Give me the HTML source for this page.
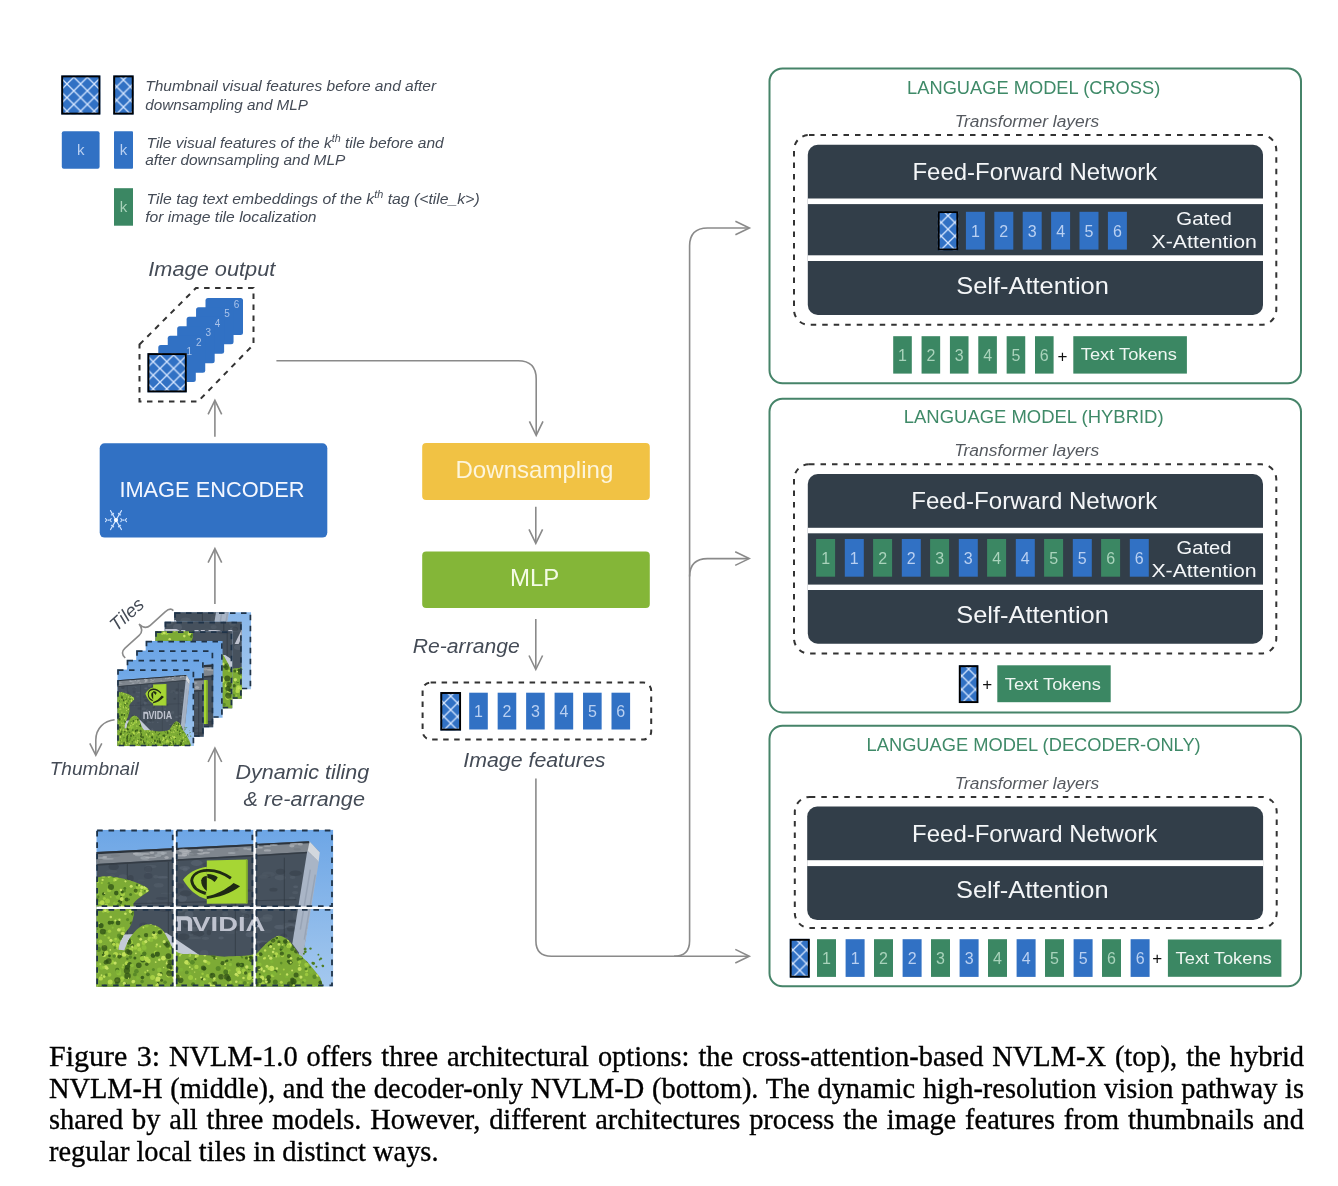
<!DOCTYPE html><html><head><meta charset="utf-8"><style>
html,body{margin:0;padding:0;background:#fff;}body{width:1338px;height:1186px;position:relative;overflow:hidden;}
svg{position:absolute;left:0;top:0;will-change:transform;}
text{font-family:"Liberation Sans",sans-serif;}
.cap{will-change:transform;position:absolute;left:49px;top:1039.5px;width:1255px;font-family:"Liberation Serif",serif;font-size:28.4px;line-height:31.55px;color:#000;text-align:justify;-webkit-text-stroke:0.35px #000;}
.cap .f{font-size:30px;}
</style></head><body>
<svg width="1338" height="1186" viewBox="0 0 1338 1186">
<defs>
<linearGradient id="sky" x1="0" y1="0" x2="0" y2="1"><stop offset="0" stop-color="#6da6e6"/><stop offset="1" stop-color="#a4c8ee"/></linearGradient>
<pattern id="hp" patternUnits="userSpaceOnUse" x="0" y="0" width="13.6" height="13.6"><path d="M-1,-1 L14.6,14.6 M14.6,-1 L-1,14.6" stroke="#d6e6ff" stroke-width="1.3"/></pattern>
<g id="photo"><clipPath id="pclip"><rect x="0" y="0" width="237" height="157"/></clipPath><g clip-path="url(#pclip)">
<rect x="0" y="0" width="237" height="157" fill="url(#sky)"/>
<polygon points="0,22.3 212.5,11.5 223,22 208,117 199,128 196,157 0,157" fill="#46515d"/>
<ellipse cx="66.4" cy="47.6" rx="5.3" ry="1.2" fill="#5d6874" opacity="0.55"/>
<ellipse cx="19.3" cy="89.5" rx="6.5" ry="1.5" fill="#3a4450" opacity="0.55"/>
<ellipse cx="88.9" cy="39.8" rx="2.5" ry="2.1" fill="#5d6874" opacity="0.55"/>
<ellipse cx="25.4" cy="54.7" rx="5.1" ry="3.4" fill="#5d6874" opacity="0.55"/>
<ellipse cx="120.0" cy="37.8" rx="3.1" ry="2.4" fill="#55606c" opacity="0.55"/>
<ellipse cx="59.4" cy="47.0" rx="2.6" ry="1.8" fill="#55606c" opacity="0.55"/>
<ellipse cx="21.1" cy="88.4" rx="2.9" ry="1.2" fill="#3a4450" opacity="0.55"/>
<ellipse cx="115.7" cy="93.0" rx="4.5" ry="2.3" fill="#4e5965" opacity="0.55"/>
<ellipse cx="95.4" cy="122.6" rx="3.8" ry="1.6" fill="#55606c" opacity="0.55"/>
<ellipse cx="143.3" cy="56.7" rx="4.9" ry="2.3" fill="#4e5965" opacity="0.55"/>
<ellipse cx="149.5" cy="60.9" rx="6.9" ry="1.3" fill="#363f49" opacity="0.55"/>
<ellipse cx="33.8" cy="66.2" rx="6.7" ry="2.1" fill="#3a4450" opacity="0.55"/>
<ellipse cx="156.7" cy="88.6" rx="6.4" ry="1.8" fill="#4e5965" opacity="0.55"/>
<ellipse cx="121.8" cy="89.2" rx="4.3" ry="3.1" fill="#4e5965" opacity="0.55"/>
<ellipse cx="97.2" cy="97.4" rx="2.3" ry="2.8" fill="#5d6874" opacity="0.55"/>
<ellipse cx="203.6" cy="112.7" rx="3.4" ry="2.0" fill="#4e5965" opacity="0.55"/>
<ellipse cx="4.6" cy="77.8" rx="2.8" ry="1.3" fill="#3a4450" opacity="0.55"/>
<ellipse cx="44.7" cy="60.9" rx="5.7" ry="2.0" fill="#363f49" opacity="0.55"/>
<ellipse cx="16.5" cy="76.6" rx="4.7" ry="3.2" fill="#363f49" opacity="0.55"/>
<ellipse cx="177.1" cy="60.0" rx="4.1" ry="1.9" fill="#363f49" opacity="0.55"/>
<ellipse cx="196.3" cy="47.6" rx="2.9" ry="1.6" fill="#55606c" opacity="0.55"/>
<ellipse cx="2.5" cy="113.6" rx="2.9" ry="1.7" fill="#55606c" opacity="0.55"/>
<ellipse cx="85.9" cy="68.8" rx="4.8" ry="3.4" fill="#5d6874" opacity="0.55"/>
<ellipse cx="194.8" cy="96.5" rx="5.7" ry="2.1" fill="#5d6874" opacity="0.55"/>
<ellipse cx="80.4" cy="71.7" rx="2.5" ry="2.6" fill="#3a4450" opacity="0.55"/>
<ellipse cx="39.1" cy="128.5" rx="4.2" ry="1.3" fill="#5d6874" opacity="0.55"/>
<ellipse cx="10.8" cy="33.0" rx="2.8" ry="1.3" fill="#4e5965" opacity="0.55"/>
<ellipse cx="125.8" cy="39.8" rx="3.0" ry="1.9" fill="#4e5965" opacity="0.55"/>
<ellipse cx="195.9" cy="91.4" rx="4.4" ry="1.3" fill="#363f49" opacity="0.55"/>
<ellipse cx="203.6" cy="78.2" rx="4.4" ry="1.2" fill="#3a4450" opacity="0.55"/>
<ellipse cx="153.7" cy="104.8" rx="4.4" ry="2.7" fill="#5d6874" opacity="0.55"/>
<ellipse cx="4.7" cy="125.2" rx="4.6" ry="1.4" fill="#5d6874" opacity="0.55"/>
<ellipse cx="187.4" cy="106.5" rx="3.5" ry="2.6" fill="#3a4450" opacity="0.55"/>
<ellipse cx="142.7" cy="58.3" rx="3.8" ry="1.4" fill="#55606c" opacity="0.55"/>
<ellipse cx="109.2" cy="108.6" rx="3.6" ry="1.6" fill="#55606c" opacity="0.55"/>
<ellipse cx="165.2" cy="112.4" rx="5.7" ry="1.6" fill="#5d6874" opacity="0.55"/>
<ellipse cx="101.0" cy="103.9" rx="6.9" ry="3.0" fill="#363f49" opacity="0.55"/>
<ellipse cx="53.1" cy="100.2" rx="6.8" ry="2.1" fill="#4e5965" opacity="0.55"/>
<ellipse cx="195.8" cy="68.4" rx="3.1" ry="1.6" fill="#55606c" opacity="0.55"/>
<ellipse cx="69.2" cy="79.8" rx="6.9" ry="2.5" fill="#3a4450" opacity="0.55"/>
<ellipse cx="98.3" cy="96.3" rx="6.0" ry="1.2" fill="#3a4450" opacity="0.55"/>
<ellipse cx="186.5" cy="108.9" rx="5.8" ry="2.2" fill="#55606c" opacity="0.55"/>
<ellipse cx="89.0" cy="94.7" rx="2.4" ry="3.4" fill="#363f49" opacity="0.55"/>
<ellipse cx="94.9" cy="105.1" rx="2.4" ry="1.4" fill="#55606c" opacity="0.55"/>
<ellipse cx="5.6" cy="90.3" rx="4.3" ry="2.6" fill="#5d6874" opacity="0.55"/>
<ellipse cx="169.4" cy="128.1" rx="5.3" ry="1.9" fill="#5d6874" opacity="0.55"/>
<ellipse cx="112.4" cy="35.1" rx="6.0" ry="2.8" fill="#3a4450" opacity="0.55"/>
<ellipse cx="107.9" cy="123.6" rx="4.2" ry="3.2" fill="#55606c" opacity="0.55"/>
<ellipse cx="5.7" cy="53.6" rx="4.5" ry="2.9" fill="#4e5965" opacity="0.55"/>
<ellipse cx="53.2" cy="73.6" rx="2.7" ry="3.3" fill="#4e5965" opacity="0.55"/>
<ellipse cx="184.0" cy="97.3" rx="6.1" ry="2.3" fill="#5d6874" opacity="0.55"/>
<ellipse cx="26.8" cy="47.7" rx="4.6" ry="3.2" fill="#55606c" opacity="0.55"/>
<ellipse cx="124.8" cy="108.3" rx="2.7" ry="1.4" fill="#5d6874" opacity="0.55"/>
<ellipse cx="148.7" cy="87.0" rx="3.6" ry="2.3" fill="#5d6874" opacity="0.55"/>
<ellipse cx="98.9" cy="108.3" rx="6.4" ry="1.1" fill="#55606c" opacity="0.55"/>
<ellipse cx="56.8" cy="107.9" rx="4.5" ry="2.4" fill="#3a4450" opacity="0.55"/>
<ellipse cx="90.9" cy="92.4" rx="4.5" ry="2.3" fill="#4e5965" opacity="0.55"/>
<ellipse cx="92.7" cy="84.7" rx="4.4" ry="3.4" fill="#5d6874" opacity="0.55"/>
<ellipse cx="179.7" cy="124.4" rx="3.3" ry="2.4" fill="#55606c" opacity="0.55"/>
<ellipse cx="172.2" cy="46.3" rx="2.6" ry="2.1" fill="#3a4450" opacity="0.55"/>
<ellipse cx="137.6" cy="74.5" rx="3.1" ry="1.8" fill="#3a4450" opacity="0.55"/>
<ellipse cx="183.9" cy="48.0" rx="5.6" ry="2.7" fill="#55606c" opacity="0.55"/>
<ellipse cx="51.9" cy="46.3" rx="4.3" ry="2.9" fill="#3a4450" opacity="0.55"/>
<ellipse cx="81.6" cy="80.3" rx="6.9" ry="3.1" fill="#55606c" opacity="0.55"/>
<ellipse cx="144.8" cy="129.4" rx="4.0" ry="2.1" fill="#4e5965" opacity="0.55"/>
<ellipse cx="65.3" cy="103.0" rx="2.1" ry="2.4" fill="#363f49" opacity="0.55"/>
<ellipse cx="144.1" cy="70.3" rx="4.6" ry="1.7" fill="#3a4450" opacity="0.55"/>
<ellipse cx="23.1" cy="122.1" rx="3.1" ry="3.2" fill="#3a4450" opacity="0.55"/>
<ellipse cx="54.4" cy="36.8" rx="5.9" ry="1.7" fill="#55606c" opacity="0.55"/>
<ellipse cx="168.1" cy="115.4" rx="5.4" ry="3.4" fill="#363f49" opacity="0.55"/>
<ellipse cx="30.6" cy="122.2" rx="4.9" ry="2.8" fill="#3a4450" opacity="0.55"/>
<ellipse cx="57.2" cy="110.6" rx="2.9" ry="3.2" fill="#4e5965" opacity="0.55"/>
<ellipse cx="192.4" cy="94.5" rx="6.0" ry="1.2" fill="#55606c" opacity="0.55"/>
<ellipse cx="13.7" cy="116.7" rx="4.3" ry="1.8" fill="#5d6874" opacity="0.55"/>
<ellipse cx="85.6" cy="121.8" rx="5.1" ry="1.1" fill="#55606c" opacity="0.55"/>
<ellipse cx="192.3" cy="127.0" rx="3.3" ry="1.5" fill="#4e5965" opacity="0.55"/>
<ellipse cx="128.9" cy="84.5" rx="3.0" ry="2.1" fill="#55606c" opacity="0.55"/>
<ellipse cx="55.5" cy="111.0" rx="7.0" ry="1.1" fill="#3a4450" opacity="0.55"/>
<ellipse cx="150.3" cy="86.5" rx="2.9" ry="2.2" fill="#363f49" opacity="0.55"/>
<ellipse cx="21.8" cy="112.4" rx="4.2" ry="2.2" fill="#363f49" opacity="0.55"/>
<ellipse cx="198.9" cy="62.9" rx="3.1" ry="1.6" fill="#55606c" opacity="0.55"/>
<ellipse cx="170.6" cy="101.6" rx="5.2" ry="2.0" fill="#4e5965" opacity="0.55"/>
<ellipse cx="201.3" cy="114.2" rx="2.1" ry="2.6" fill="#4e5965" opacity="0.55"/>
<ellipse cx="88.3" cy="38.4" rx="5.3" ry="2.0" fill="#5d6874" opacity="0.55"/>
<ellipse cx="137.5" cy="60.3" rx="3.2" ry="1.7" fill="#363f49" opacity="0.55"/>
<ellipse cx="38.0" cy="59.1" rx="2.0" ry="1.9" fill="#4e5965" opacity="0.55"/>
<ellipse cx="199.4" cy="86.1" rx="3.2" ry="3.4" fill="#4e5965" opacity="0.55"/>
<ellipse cx="44.7" cy="50.7" rx="3.7" ry="1.2" fill="#4e5965" opacity="0.55"/>
<ellipse cx="103.1" cy="52.5" rx="4.5" ry="1.0" fill="#4e5965" opacity="0.55"/>
<ellipse cx="167.5" cy="47.0" rx="4.9" ry="2.0" fill="#4e5965" opacity="0.55"/>
<ellipse cx="62.4" cy="55.6" rx="4.9" ry="2.3" fill="#55606c" opacity="0.55"/>
<ellipse cx="134.8" cy="102.5" rx="6.4" ry="2.0" fill="#4e5965" opacity="0.55"/>
<ellipse cx="147.7" cy="80.9" rx="3.4" ry="2.5" fill="#55606c" opacity="0.55"/>
<ellipse cx="9.0" cy="114.0" rx="6.5" ry="2.6" fill="#5d6874" opacity="0.55"/>
<ellipse cx="28.6" cy="83.8" rx="4.5" ry="3.1" fill="#3a4450" opacity="0.55"/>
<ellipse cx="169.4" cy="89.7" rx="6.5" ry="2.7" fill="#55606c" opacity="0.55"/>
<ellipse cx="17.4" cy="37.1" rx="5.2" ry="3.4" fill="#363f49" opacity="0.55"/>
<ellipse cx="171.3" cy="87.2" rx="5.1" ry="2.6" fill="#55606c" opacity="0.55"/>
<ellipse cx="100.3" cy="33.3" rx="6.0" ry="2.9" fill="#5d6874" opacity="0.55"/>
<ellipse cx="184.1" cy="41.9" rx="4.6" ry="2.9" fill="#363f49" opacity="0.55"/>
<ellipse cx="51.7" cy="40.2" rx="3.3" ry="2.8" fill="#55606c" opacity="0.55"/>
<ellipse cx="47.3" cy="96.0" rx="4.3" ry="3.1" fill="#3a4450" opacity="0.55"/>
<ellipse cx="98.2" cy="99.3" rx="5.8" ry="2.5" fill="#55606c" opacity="0.55"/>
<ellipse cx="15.9" cy="47.3" rx="3.3" ry="2.9" fill="#4e5965" opacity="0.55"/>
<ellipse cx="127.3" cy="45.9" rx="4.4" ry="2.2" fill="#3a4450" opacity="0.55"/>
<ellipse cx="141.9" cy="98.5" rx="3.5" ry="2.3" fill="#363f49" opacity="0.55"/>
<ellipse cx="95.5" cy="107.4" rx="7.0" ry="2.4" fill="#4e5965" opacity="0.55"/>
<ellipse cx="200.5" cy="123.8" rx="2.1" ry="2.1" fill="#5d6874" opacity="0.55"/>
<ellipse cx="198.5" cy="76.6" rx="3.3" ry="1.5" fill="#55606c" opacity="0.55"/>
<ellipse cx="15.3" cy="41.8" rx="5.7" ry="1.7" fill="#4e5965" opacity="0.55"/>
<ellipse cx="27.2" cy="112.6" rx="4.5" ry="3.2" fill="#4e5965" opacity="0.55"/>
<ellipse cx="47.4" cy="120.1" rx="4.4" ry="1.1" fill="#3a4450" opacity="0.55"/>
<ellipse cx="194.7" cy="99.1" rx="4.0" ry="2.8" fill="#363f49" opacity="0.55"/>
<ellipse cx="70.5" cy="63.7" rx="6.2" ry="1.0" fill="#4e5965" opacity="0.55"/>
<ellipse cx="172.0" cy="44.6" rx="6.6" ry="2.8" fill="#4e5965" opacity="0.55"/>
<ellipse cx="51.9" cy="39.3" rx="4.0" ry="3.2" fill="#3a4450" opacity="0.55"/>
<ellipse cx="73.9" cy="74.5" rx="3.4" ry="1.1" fill="#3a4450" opacity="0.55"/>
<ellipse cx="10.6" cy="97.2" rx="5.2" ry="1.4" fill="#4e5965" opacity="0.55"/>
<ellipse cx="89.4" cy="63.6" rx="5.9" ry="3.0" fill="#363f49" opacity="0.55"/>
<ellipse cx="181.3" cy="111.8" rx="5.2" ry="3.3" fill="#5d6874" opacity="0.55"/>
<ellipse cx="112.6" cy="102.8" rx="2.2" ry="2.8" fill="#363f49" opacity="0.55"/>
<ellipse cx="126.1" cy="46.4" rx="6.3" ry="2.2" fill="#5d6874" opacity="0.55"/>
<ellipse cx="26.1" cy="78.8" rx="3.7" ry="1.7" fill="#4e5965" opacity="0.55"/>
<ellipse cx="83.3" cy="56.2" rx="4.4" ry="2.7" fill="#3a4450" opacity="0.55"/>
<ellipse cx="34.3" cy="48.7" rx="3.0" ry="3.3" fill="#363f49" opacity="0.55"/>
<ellipse cx="112.8" cy="76.9" rx="3.7" ry="2.9" fill="#363f49" opacity="0.55"/>
<ellipse cx="28.6" cy="51.7" rx="2.5" ry="1.9" fill="#3a4450" opacity="0.55"/>
<ellipse cx="65.5" cy="68.7" rx="6.0" ry="1.5" fill="#3a4450" opacity="0.55"/>
<ellipse cx="153.7" cy="73.0" rx="4.1" ry="2.3" fill="#363f49" opacity="0.55"/>
<ellipse cx="55.4" cy="106.0" rx="4.5" ry="2.4" fill="#4e5965" opacity="0.55"/>
<ellipse cx="25.8" cy="81.8" rx="5.1" ry="3.2" fill="#55606c" opacity="0.55"/>
<ellipse cx="19.0" cy="120.0" rx="3.9" ry="2.6" fill="#363f49" opacity="0.55"/>
<ellipse cx="195.6" cy="115.3" rx="6.4" ry="1.1" fill="#3a4450" opacity="0.55"/>
<ellipse cx="87.2" cy="107.1" rx="6.0" ry="3.4" fill="#363f49" opacity="0.55"/>
<ellipse cx="0.0" cy="71.0" rx="6.6" ry="3.1" fill="#363f49" opacity="0.55"/>
<ellipse cx="199.3" cy="57.1" rx="2.5" ry="1.4" fill="#5d6874" opacity="0.55"/>
<ellipse cx="199.2" cy="43.6" rx="6.1" ry="2.8" fill="#363f49" opacity="0.55"/>
<ellipse cx="17.4" cy="108.4" rx="2.0" ry="1.3" fill="#5d6874" opacity="0.55"/>
<ellipse cx="188.6" cy="95.6" rx="3.5" ry="1.3" fill="#4e5965" opacity="0.55"/>
<ellipse cx="108.3" cy="75.4" rx="5.8" ry="1.2" fill="#4e5965" opacity="0.55"/>
<path d="M31,34 L31,130 M72,32 L72,130 M139,30 L139,130 M188,28 L188,130" stroke="#2f3740" stroke-width="1" opacity="0.7"/>
<path d="M0,75 L200,70" stroke="#333c46" stroke-width="1.2" opacity="0.6"/>
<polygon points="0,22.3 212.5,11.5 213.5,13.5 0,24.5" fill="#2c333b"/>
<polygon points="0,24.5 213.5,13.5 212,22 0,34.4" fill="#7f868e"/>
<ellipse cx="110.1" cy="23.0" rx="3.6" ry="1.0" fill="#b0b5bb" opacity="0.7"/>
<ellipse cx="0.2" cy="29.5" rx="6.0" ry="1.1" fill="#737a82" opacity="0.7"/>
<ellipse cx="135.4" cy="23.4" rx="3.9" ry="1.0" fill="#a3a9b0" opacity="0.7"/>
<ellipse cx="6.1" cy="28.3" rx="4.6" ry="0.9" fill="#a3a9b0" opacity="0.7"/>
<ellipse cx="104.6" cy="23.9" rx="3.7" ry="1.1" fill="#b0b5bb" opacity="0.7"/>
<ellipse cx="89.1" cy="22.9" rx="4.0" ry="1.5" fill="#b0b5bb" opacity="0.7"/>
<ellipse cx="88.3" cy="25.0" rx="2.8" ry="1.6" fill="#b0b5bb" opacity="0.7"/>
<ellipse cx="177.5" cy="15.4" rx="4.0" ry="1.0" fill="#a3a9b0" opacity="0.7"/>
<ellipse cx="48.5" cy="24.4" rx="5.0" ry="1.1" fill="#b0b5bb" opacity="0.7"/>
<ellipse cx="104.1" cy="20.8" rx="2.9" ry="1.2" fill="#b0b5bb" opacity="0.7"/>
<ellipse cx="11.8" cy="29.1" rx="5.7" ry="0.9" fill="#a3a9b0" opacity="0.7"/>
<ellipse cx="204.6" cy="14.2" rx="2.2" ry="0.9" fill="#737a82" opacity="0.7"/>
<ellipse cx="94.4" cy="24.8" rx="3.3" ry="0.9" fill="#a3a9b0" opacity="0.7"/>
<ellipse cx="195.6" cy="16.0" rx="2.7" ry="1.7" fill="#b0b5bb" opacity="0.7"/>
<ellipse cx="98.2" cy="21.9" rx="4.9" ry="1.6" fill="#737a82" opacity="0.7"/>
<ellipse cx="92.9" cy="20.9" rx="2.3" ry="0.9" fill="#737a82" opacity="0.7"/>
<ellipse cx="200.7" cy="14.4" rx="5.9" ry="1.0" fill="#737a82" opacity="0.7"/>
<ellipse cx="161.4" cy="18.0" rx="5.2" ry="0.9" fill="#b0b5bb" opacity="0.7"/>
<ellipse cx="99.4" cy="22.3" rx="5.7" ry="1.0" fill="#737a82" opacity="0.7"/>
<ellipse cx="154.8" cy="19.5" rx="4.5" ry="1.0" fill="#b0b5bb" opacity="0.7"/>
<ellipse cx="161.0" cy="16.3" rx="2.1" ry="0.9" fill="#a3a9b0" opacity="0.7"/>
<ellipse cx="54.0" cy="27.5" rx="5.6" ry="1.1" fill="#737a82" opacity="0.7"/>
<ellipse cx="70.3" cy="27.8" rx="2.2" ry="1.5" fill="#b0b5bb" opacity="0.7"/>
<ellipse cx="66.5" cy="23.7" rx="2.0" ry="1.6" fill="#b0b5bb" opacity="0.7"/>
<ellipse cx="198.8" cy="14.1" rx="5.3" ry="0.9" fill="#b0b5bb" opacity="0.7"/>
<ellipse cx="200.9" cy="19.7" rx="3.5" ry="1.1" fill="#737a82" opacity="0.7"/>
<ellipse cx="171.1" cy="16.3" rx="4.0" ry="0.8" fill="#b0b5bb" opacity="0.7"/>
<ellipse cx="63.7" cy="26.5" rx="2.6" ry="1.0" fill="#737a82" opacity="0.7"/>
<ellipse cx="96.8" cy="25.1" rx="4.4" ry="1.3" fill="#737a82" opacity="0.7"/>
<ellipse cx="158.1" cy="17.8" rx="2.3" ry="0.8" fill="#b0b5bb" opacity="0.7"/>
<ellipse cx="114.4" cy="20.0" rx="3.7" ry="0.9" fill="#a3a9b0" opacity="0.7"/>
<ellipse cx="55.6" cy="23.1" rx="2.4" ry="1.3" fill="#b0b5bb" opacity="0.7"/>
<ellipse cx="204.1" cy="14.5" rx="2.5" ry="1.3" fill="#b0b5bb" opacity="0.7"/>
<ellipse cx="49.3" cy="26.4" rx="5.1" ry="1.6" fill="#737a82" opacity="0.7"/>
<ellipse cx="61.7" cy="25.9" rx="3.5" ry="1.5" fill="#a3a9b0" opacity="0.7"/>
<ellipse cx="92.3" cy="21.5" rx="2.9" ry="1.1" fill="#b0b5bb" opacity="0.7"/>
<ellipse cx="39.5" cy="24.0" rx="3.0" ry="1.0" fill="#b0b5bb" opacity="0.7"/>
<ellipse cx="48.6" cy="28.2" rx="4.6" ry="1.8" fill="#a3a9b0" opacity="0.7"/>
<ellipse cx="0.9" cy="31.7" rx="2.9" ry="1.2" fill="#737a82" opacity="0.7"/>
<ellipse cx="8.5" cy="27.4" rx="2.5" ry="1.0" fill="#b0b5bb" opacity="0.7"/>
<ellipse cx="40.8" cy="24.0" rx="4.1" ry="1.0" fill="#b0b5bb" opacity="0.7"/>
<ellipse cx="54.6" cy="27.7" rx="5.8" ry="0.9" fill="#b0b5bb" opacity="0.7"/>
<ellipse cx="149.0" cy="19.0" rx="2.1" ry="1.1" fill="#a3a9b0" opacity="0.7"/>
<ellipse cx="42.8" cy="25.0" rx="4.4" ry="1.5" fill="#a3a9b0" opacity="0.7"/>
<ellipse cx="171.1" cy="20.7" rx="3.6" ry="1.2" fill="#b0b5bb" opacity="0.7"/>
<ellipse cx="65.6" cy="23.3" rx="5.2" ry="1.3" fill="#a3a9b0" opacity="0.7"/>
<ellipse cx="85.7" cy="25.9" rx="4.7" ry="1.0" fill="#b0b5bb" opacity="0.7"/>
<ellipse cx="19.1" cy="25.9" rx="4.8" ry="1.2" fill="#737a82" opacity="0.7"/>
<ellipse cx="140.2" cy="20.0" rx="2.2" ry="1.5" fill="#737a82" opacity="0.7"/>
<ellipse cx="87.0" cy="20.7" rx="5.1" ry="1.6" fill="#b0b5bb" opacity="0.7"/>
<polygon points="0,34.4 212,22 212,23.6 0,36" fill="#343c45"/>
<polygon points="211,21 222.5,32 206.5,128 196,114" fill="#a9b5c6"/>
<polygon points="213.3,11.8 223.5,22.6 222.3,32 211.3,21.2" fill="#d3d8de"/>
<path d="M214,40 L204,100 M219,45 L208,110" stroke="#8d9aac" stroke-width="1.5" opacity="0.6"/>
<polygon points="22,105 70,103 116,134 104,157 22,157" fill="#c3cad6"/>
<g><polygon points="110.5,30.8 150.8,29.8 150.8,73.7 110.5,74" fill="#a6d634"/><polygon points="149.6,30 151.5,30 151.5,73.8 149.6,73.8" fill="#86b32a"/><path d="M86.7,50 C92,43 100,38.5 110.5,37 L110.5,69.5 C100,67 92,59 86.7,50 Z" fill="#a6d634"/><path d="M109.5,63.8 C101,61.5 96,56.5 95.4,51 C96,45 102,41.2 110.5,40.7 C118,40.2 127,43.2 134.6,48.6" fill="none" stroke="#1f2a14" stroke-width="2.9"/><path d="M137.3,53.4 L143.8,56.6 C135,63.5 122,68 110.5,69.2 L110.5,66.6 C120,65 129.5,60 137.3,53.4 Z" fill="#1f2a14"/><path d="M110.5,61.2 C106.5,58.5 104.6,54.5 104.9,50.5 C105.6,47.8 107.8,46.6 110.5,46.4 Z" fill="#1f2a14"/><path d="M111,44.2 C115.5,44.3 119.5,45.6 121.4,47.6 C120.6,49.6 119.4,51.2 118.2,52.4 C116,50.2 113.5,48.6 111,48 Z" fill="#1f2a14"/></g>
<path d="M80.4,101.4 L80.4,86.6 L90,86.6 C94,86.6 95.9,89 95.9,92 L95.9,101.4 L91.6,101.4 L91.6,92.5 C91.6,91.3 90.8,90.6 89.6,90.6 L84.7,90.6 L84.7,101.4 Z" fill="#bfc3cf"/>
<text x="96" y="101.4" font-family="Liberation Sans" font-size="20.5" font-weight="bold" fill="#bfc3cf" textLength="73" lengthAdjust="spacingAndGlyphs">VIDIA</text>
<path d="M0,48 C10,45 26,48 38,52 C46,55 52,58 53,61 C48,65 40,69 37,74 C38,82 38,90 33,98 C28,104 24,110 22,118 L20,157 L0,157 Z" fill="#7dab35"/><path d="M27,124 C31,110 38,100 46,96 C54,93 62,96 66,100 C69,104 71,108 73,112 L76,118 C80,124 86,125 94,124 C104,126 116,125 128,127 C140,126 150,127 160,124 C166,118 172,110 182,106 C190,106 196,114 202,124 C210,130 218,140 224,148 L227,157 L24,157 Z" fill="#7dab35"/><path d="M0,126 C10,120 20,119 30,121 L40,124 L40,157 L0,157 Z" fill="#7dab35"/>
<clipPath id="treeclip"><path d="M0,48 C10,45 26,48 38,52 C46,55 52,58 53,61 C48,65 40,69 37,74 C38,82 38,90 33,98 C28,104 24,110 22,118 L20,157 L0,157 Z"/><path d="M27,124 C31,110 38,100 46,96 C54,93 62,96 66,100 C69,104 71,108 73,112 L76,118 C80,124 86,125 94,124 C104,126 116,125 128,127 C140,126 150,127 160,124 C166,118 172,110 182,106 C190,106 196,114 202,124 C210,130 218,140 224,148 L227,157 L24,157 Z"/><path d="M0,126 C10,120 20,119 30,121 L40,124 L40,157 L0,157 Z"/></clipPath>
<g clip-path="url(#treeclip)">
<circle cx="45.4" cy="126.3" r="1.2" fill="#3a601b"/>
<circle cx="99.9" cy="61.7" r="1.1" fill="#5a8a28"/>
<circle cx="93.4" cy="143.8" r="1.7" fill="#7fb236"/>
<circle cx="29.9" cy="49.8" r="1.1" fill="#4d7a22"/>
<circle cx="20.5" cy="114.3" r="1.5" fill="#a5cf45"/>
<circle cx="39.5" cy="83.3" r="1.2" fill="#7fb236"/>
<circle cx="212.9" cy="56.3" r="1.7" fill="#9cc93f"/>
<circle cx="69.4" cy="138.6" r="1.0" fill="#8bbd3a"/>
<circle cx="72.3" cy="112.7" r="2.0" fill="#5a8a28"/>
<circle cx="208.0" cy="114.1" r="2.3" fill="#7fb236"/>
<circle cx="147.3" cy="140.8" r="2.0" fill="#9cc93f"/>
<circle cx="190.7" cy="64.7" r="1.3" fill="#4d7a22"/>
<circle cx="215.9" cy="61.7" r="1.5" fill="#7fb236"/>
<circle cx="56.8" cy="125.9" r="2.4" fill="#3a601b"/>
<circle cx="203.3" cy="139.2" r="2.0" fill="#c2e05a"/>
<circle cx="27.1" cy="111.7" r="1.8" fill="#b3d84c"/>
<circle cx="149.3" cy="78.8" r="1.3" fill="#4d7a22"/>
<circle cx="151.5" cy="94.5" r="1.6" fill="#3a601b"/>
<circle cx="0.8" cy="155.4" r="1.7" fill="#8bbd3a"/>
<circle cx="175.6" cy="132.1" r="1.7" fill="#7fb236"/>
<circle cx="186.4" cy="89.2" r="1.0" fill="#c2e05a"/>
<circle cx="99.0" cy="54.4" r="1.7" fill="#a5cf45"/>
<circle cx="151.1" cy="48.6" r="1.1" fill="#c2e05a"/>
<circle cx="178.9" cy="101.8" r="1.0" fill="#a5cf45"/>
<circle cx="205.8" cy="117.8" r="2.2" fill="#3a601b"/>
<circle cx="197.1" cy="156.6" r="2.1" fill="#5a8a28"/>
<circle cx="44.6" cy="154.9" r="1.7" fill="#7fb236"/>
<circle cx="157.8" cy="125.5" r="1.3" fill="#c2e05a"/>
<circle cx="140.4" cy="72.5" r="1.5" fill="#b3d84c"/>
<circle cx="208.2" cy="95.6" r="1.3" fill="#8bbd3a"/>
<circle cx="47.9" cy="73.7" r="1.8" fill="#c2e05a"/>
<circle cx="85.6" cy="66.5" r="1.6" fill="#b3d84c"/>
<circle cx="156.3" cy="145.2" r="1.2" fill="#b3d84c"/>
<circle cx="26.5" cy="104.0" r="2.0" fill="#c2e05a"/>
<circle cx="222.2" cy="95.2" r="1.8" fill="#5a8a28"/>
<circle cx="58.0" cy="104.5" r="2.4" fill="#c2e05a"/>
<circle cx="60.9" cy="155.9" r="1.9" fill="#c2e05a"/>
<circle cx="76.1" cy="53.2" r="1.3" fill="#3a601b"/>
<circle cx="68.2" cy="102.3" r="1.4" fill="#c2e05a"/>
<circle cx="168.6" cy="128.4" r="1.3" fill="#b3d84c"/>
<circle cx="141.7" cy="92.8" r="1.8" fill="#3a601b"/>
<circle cx="30.4" cy="69.7" r="2.0" fill="#3a601b"/>
<circle cx="12.5" cy="108.1" r="1.4" fill="#a5cf45"/>
<circle cx="82.1" cy="69.3" r="1.9" fill="#7fb236"/>
<circle cx="47.0" cy="114.5" r="1.7" fill="#7fb236"/>
<circle cx="3.2" cy="134.6" r="2.1" fill="#8bbd3a"/>
<circle cx="22.0" cy="116.1" r="2.4" fill="#b3d84c"/>
<circle cx="92.4" cy="73.9" r="0.9" fill="#a5cf45"/>
<circle cx="205.3" cy="111.2" r="1.9" fill="#a5cf45"/>
<circle cx="168.7" cy="72.1" r="2.4" fill="#3a601b"/>
<circle cx="14.2" cy="46.9" r="1.2" fill="#7fb236"/>
<circle cx="13.4" cy="132.0" r="0.9" fill="#a5cf45"/>
<circle cx="151.1" cy="66.3" r="1.6" fill="#a5cf45"/>
<circle cx="139.9" cy="101.3" r="2.0" fill="#7fb236"/>
<circle cx="117.0" cy="51.2" r="2.0" fill="#8bbd3a"/>
<circle cx="164.5" cy="44.7" r="2.3" fill="#8bbd3a"/>
<circle cx="18.5" cy="118.1" r="1.2" fill="#5a8a28"/>
<circle cx="60.1" cy="116.8" r="1.1" fill="#b3d84c"/>
<circle cx="163.7" cy="74.1" r="1.8" fill="#4d7a22"/>
<circle cx="157.7" cy="147.7" r="2.6" fill="#b3d84c"/>
<circle cx="147.7" cy="153.1" r="1.3" fill="#a5cf45"/>
<circle cx="3.5" cy="73.4" r="1.3" fill="#9cc93f"/>
<circle cx="217.3" cy="128.3" r="1.5" fill="#4d7a22"/>
<circle cx="75.6" cy="71.0" r="2.4" fill="#a5cf45"/>
<circle cx="108.0" cy="138.9" r="2.1" fill="#3a601b"/>
<circle cx="100.6" cy="125.9" r="1.9" fill="#b3d84c"/>
<circle cx="181.5" cy="88.2" r="1.9" fill="#7fb236"/>
<circle cx="33.3" cy="47.0" r="1.1" fill="#7fb236"/>
<circle cx="79.3" cy="60.0" r="0.9" fill="#3a601b"/>
<circle cx="31.8" cy="116.7" r="1.0" fill="#5a8a28"/>
<circle cx="169.5" cy="51.4" r="1.9" fill="#c2e05a"/>
<circle cx="45.8" cy="151.9" r="1.8" fill="#5a8a28"/>
<circle cx="202.3" cy="129.4" r="2.1" fill="#4d7a22"/>
<circle cx="24.6" cy="67.2" r="1.1" fill="#3a601b"/>
<circle cx="218.3" cy="147.0" r="2.2" fill="#5a8a28"/>
<circle cx="189.8" cy="115.4" r="1.4" fill="#5a8a28"/>
<circle cx="30.5" cy="133.5" r="2.0" fill="#b3d84c"/>
<circle cx="73.4" cy="91.9" r="0.9" fill="#b3d84c"/>
<circle cx="213.9" cy="49.5" r="2.2" fill="#c2e05a"/>
<circle cx="176.9" cy="112.0" r="1.7" fill="#b3d84c"/>
<circle cx="142.2" cy="47.5" r="1.6" fill="#4d7a22"/>
<circle cx="119.3" cy="55.1" r="1.7" fill="#3a601b"/>
<circle cx="123.7" cy="68.5" r="2.4" fill="#5a8a28"/>
<circle cx="132.1" cy="76.4" r="1.6" fill="#a5cf45"/>
<circle cx="46.5" cy="130.1" r="2.6" fill="#3a601b"/>
<circle cx="80.0" cy="54.8" r="2.1" fill="#7fb236"/>
<circle cx="222.4" cy="111.0" r="2.5" fill="#a5cf45"/>
<circle cx="59.9" cy="150.7" r="1.4" fill="#9cc93f"/>
<circle cx="215.8" cy="70.2" r="1.2" fill="#5a8a28"/>
<circle cx="112.8" cy="156.0" r="1.9" fill="#5a8a28"/>
<circle cx="144.4" cy="84.2" r="1.6" fill="#4d7a22"/>
<circle cx="205.1" cy="128.2" r="1.6" fill="#3a601b"/>
<circle cx="85.5" cy="78.3" r="1.6" fill="#a5cf45"/>
<circle cx="115.3" cy="86.9" r="2.4" fill="#9cc93f"/>
<circle cx="217.1" cy="58.3" r="1.9" fill="#3a601b"/>
<circle cx="80.2" cy="80.9" r="1.2" fill="#8bbd3a"/>
<circle cx="152.3" cy="127.8" r="1.2" fill="#8bbd3a"/>
<circle cx="158.5" cy="73.1" r="1.3" fill="#c2e05a"/>
<circle cx="106.3" cy="144.0" r="1.3" fill="#9cc93f"/>
<circle cx="61.5" cy="129.3" r="2.3" fill="#7fb236"/>
<circle cx="166.4" cy="154.1" r="2.1" fill="#a5cf45"/>
<circle cx="80.2" cy="70.7" r="2.5" fill="#b3d84c"/>
<circle cx="224.3" cy="126.3" r="1.1" fill="#5a8a28"/>
<circle cx="44.9" cy="61.1" r="1.2" fill="#b3d84c"/>
<circle cx="168.7" cy="93.1" r="1.2" fill="#5a8a28"/>
<circle cx="64.6" cy="144.0" r="1.7" fill="#3a601b"/>
<circle cx="91.8" cy="133.4" r="2.1" fill="#a5cf45"/>
<circle cx="225.6" cy="77.5" r="0.9" fill="#b3d84c"/>
<circle cx="138.9" cy="89.7" r="2.2" fill="#4d7a22"/>
<circle cx="161.3" cy="110.4" r="2.0" fill="#9cc93f"/>
<circle cx="153.6" cy="117.7" r="2.4" fill="#9cc93f"/>
<circle cx="156.3" cy="116.5" r="1.7" fill="#c2e05a"/>
<circle cx="59.8" cy="123.2" r="2.4" fill="#9cc93f"/>
<circle cx="179.9" cy="124.6" r="2.0" fill="#b3d84c"/>
<circle cx="195.4" cy="98.6" r="0.9" fill="#4d7a22"/>
<circle cx="119.2" cy="118.7" r="2.4" fill="#c2e05a"/>
<circle cx="179.0" cy="87.9" r="1.7" fill="#5a8a28"/>
<circle cx="8.8" cy="105.4" r="1.2" fill="#9cc93f"/>
<circle cx="119.4" cy="55.4" r="1.9" fill="#a5cf45"/>
<circle cx="47.1" cy="97.8" r="0.9" fill="#c2e05a"/>
<circle cx="120.0" cy="90.4" r="2.5" fill="#9cc93f"/>
<circle cx="227.8" cy="64.8" r="1.8" fill="#5a8a28"/>
<circle cx="167.7" cy="113.4" r="2.0" fill="#b3d84c"/>
<circle cx="63.1" cy="89.2" r="0.9" fill="#4d7a22"/>
<circle cx="210.6" cy="115.0" r="2.0" fill="#b3d84c"/>
<circle cx="25.1" cy="78.3" r="1.6" fill="#a5cf45"/>
<circle cx="223.4" cy="156.3" r="2.5" fill="#8bbd3a"/>
<circle cx="48.8" cy="58.6" r="2.2" fill="#9cc93f"/>
<circle cx="107.9" cy="107.5" r="1.3" fill="#7fb236"/>
<circle cx="81.2" cy="116.2" r="2.3" fill="#4d7a22"/>
<circle cx="107.7" cy="77.3" r="1.8" fill="#7fb236"/>
<circle cx="179.4" cy="97.0" r="2.2" fill="#9cc93f"/>
<circle cx="61.5" cy="86.5" r="1.3" fill="#4d7a22"/>
<circle cx="156.1" cy="98.4" r="2.3" fill="#b3d84c"/>
<circle cx="82.3" cy="117.9" r="1.4" fill="#8bbd3a"/>
<circle cx="98.6" cy="116.0" r="2.0" fill="#c2e05a"/>
<circle cx="35.1" cy="78.3" r="1.6" fill="#5a8a28"/>
<circle cx="190.4" cy="146.4" r="2.2" fill="#7fb236"/>
<circle cx="122.0" cy="83.0" r="1.9" fill="#3a601b"/>
<circle cx="48.2" cy="52.1" r="1.4" fill="#5a8a28"/>
<circle cx="133.1" cy="140.5" r="1.2" fill="#8bbd3a"/>
<circle cx="79.7" cy="61.3" r="2.4" fill="#a5cf45"/>
<circle cx="38.6" cy="144.7" r="1.9" fill="#5a8a28"/>
<circle cx="153.7" cy="145.0" r="2.2" fill="#b3d84c"/>
<circle cx="45.4" cy="122.3" r="1.8" fill="#8bbd3a"/>
<circle cx="154.4" cy="57.2" r="1.1" fill="#4d7a22"/>
<circle cx="53.9" cy="59.7" r="1.7" fill="#3a601b"/>
<circle cx="111.4" cy="146.3" r="2.1" fill="#9cc93f"/>
<circle cx="114.6" cy="105.0" r="2.4" fill="#3a601b"/>
<circle cx="36.9" cy="80.2" r="2.1" fill="#8bbd3a"/>
<circle cx="153.0" cy="139.0" r="1.5" fill="#4d7a22"/>
<circle cx="230.0" cy="120.4" r="1.2" fill="#c2e05a"/>
<circle cx="146.3" cy="47.2" r="1.9" fill="#c2e05a"/>
<circle cx="186.0" cy="54.6" r="1.7" fill="#7fb236"/>
<circle cx="7.8" cy="125.2" r="2.0" fill="#c2e05a"/>
<circle cx="21.7" cy="118.5" r="1.5" fill="#a5cf45"/>
<circle cx="127.4" cy="147.1" r="1.4" fill="#c2e05a"/>
<circle cx="97.1" cy="106.6" r="2.3" fill="#b3d84c"/>
<circle cx="81.7" cy="99.8" r="1.5" fill="#b3d84c"/>
<circle cx="200.8" cy="83.0" r="1.2" fill="#8bbd3a"/>
<circle cx="182.1" cy="81.4" r="1.4" fill="#b3d84c"/>
<circle cx="29.3" cy="153.9" r="1.0" fill="#3a601b"/>
<circle cx="91.7" cy="106.6" r="1.6" fill="#3a601b"/>
<circle cx="91.7" cy="56.3" r="1.0" fill="#8bbd3a"/>
<circle cx="140.0" cy="118.4" r="2.2" fill="#a5cf45"/>
<circle cx="140.7" cy="113.7" r="2.0" fill="#5a8a28"/>
<circle cx="48.9" cy="119.4" r="1.7" fill="#7fb236"/>
<circle cx="23.3" cy="64.5" r="1.0" fill="#5a8a28"/>
<circle cx="210.2" cy="118.1" r="1.5" fill="#7fb236"/>
<circle cx="180.9" cy="107.5" r="1.3" fill="#b3d84c"/>
<circle cx="42.5" cy="47.9" r="0.9" fill="#3a601b"/>
<circle cx="114.5" cy="103.0" r="2.3" fill="#4d7a22"/>
<circle cx="132.3" cy="147.8" r="1.7" fill="#3a601b"/>
<circle cx="156.4" cy="111.1" r="2.6" fill="#7fb236"/>
<circle cx="109.4" cy="90.6" r="1.1" fill="#8bbd3a"/>
<circle cx="48.8" cy="61.1" r="0.9" fill="#3a601b"/>
<circle cx="2.1" cy="119.6" r="2.6" fill="#5a8a28"/>
<circle cx="50.2" cy="57.7" r="1.7" fill="#b3d84c"/>
<circle cx="165.5" cy="71.4" r="2.1" fill="#7fb236"/>
<circle cx="212.2" cy="85.3" r="2.2" fill="#7fb236"/>
<circle cx="167.8" cy="53.5" r="2.0" fill="#8bbd3a"/>
<circle cx="105.9" cy="149.4" r="1.3" fill="#3a601b"/>
<circle cx="165.0" cy="45.3" r="0.9" fill="#5a8a28"/>
<circle cx="89.5" cy="79.3" r="1.9" fill="#8bbd3a"/>
<circle cx="140.1" cy="79.7" r="2.5" fill="#8bbd3a"/>
<circle cx="108.1" cy="62.8" r="2.5" fill="#5a8a28"/>
<circle cx="83.6" cy="116.9" r="2.0" fill="#4d7a22"/>
<circle cx="109.7" cy="131.9" r="1.7" fill="#b3d84c"/>
<circle cx="180.5" cy="108.1" r="1.4" fill="#3a601b"/>
<circle cx="143.0" cy="117.6" r="2.3" fill="#c2e05a"/>
<circle cx="200.0" cy="126.0" r="0.9" fill="#7fb236"/>
<circle cx="138.3" cy="78.9" r="1.6" fill="#9cc93f"/>
<circle cx="86.6" cy="121.4" r="1.9" fill="#9cc93f"/>
<circle cx="185.7" cy="76.0" r="0.9" fill="#b3d84c"/>
<circle cx="61.6" cy="61.8" r="2.5" fill="#3a601b"/>
<circle cx="66.4" cy="59.9" r="2.4" fill="#7fb236"/>
<circle cx="63.0" cy="140.2" r="2.3" fill="#8bbd3a"/>
<circle cx="79.8" cy="53.6" r="1.8" fill="#4d7a22"/>
<circle cx="46.1" cy="128.8" r="2.5" fill="#9cc93f"/>
<circle cx="71.2" cy="50.5" r="1.6" fill="#9cc93f"/>
<circle cx="213.0" cy="110.3" r="0.9" fill="#4d7a22"/>
<circle cx="105.7" cy="53.9" r="2.3" fill="#5a8a28"/>
<circle cx="53.6" cy="109.5" r="2.4" fill="#a5cf45"/>
<circle cx="73.8" cy="101.2" r="1.2" fill="#9cc93f"/>
<circle cx="44.2" cy="64.4" r="2.1" fill="#c2e05a"/>
<circle cx="132.9" cy="84.6" r="2.2" fill="#7fb236"/>
<circle cx="56.7" cy="148.3" r="1.7" fill="#5a8a28"/>
<circle cx="85.5" cy="96.4" r="1.0" fill="#c2e05a"/>
<circle cx="137.4" cy="83.0" r="1.8" fill="#3a601b"/>
<circle cx="21.6" cy="67.1" r="2.4" fill="#8bbd3a"/>
<circle cx="134.9" cy="68.1" r="2.5" fill="#b3d84c"/>
<circle cx="98.0" cy="151.0" r="2.2" fill="#7fb236"/>
<circle cx="58.4" cy="48.3" r="1.2" fill="#7fb236"/>
<circle cx="87.0" cy="47.1" r="1.0" fill="#c2e05a"/>
<circle cx="200.3" cy="95.8" r="2.5" fill="#5a8a28"/>
<circle cx="198.5" cy="116.3" r="2.5" fill="#5a8a28"/>
<circle cx="59.2" cy="107.8" r="2.0" fill="#a5cf45"/>
<circle cx="90.4" cy="94.7" r="1.2" fill="#9cc93f"/>
<circle cx="228.1" cy="69.1" r="1.0" fill="#b3d84c"/>
<circle cx="216.5" cy="50.7" r="1.8" fill="#3a601b"/>
<circle cx="192.6" cy="49.3" r="2.2" fill="#8bbd3a"/>
<circle cx="12.8" cy="60.4" r="2.2" fill="#9cc93f"/>
<circle cx="155.7" cy="77.8" r="1.9" fill="#5a8a28"/>
<circle cx="108.3" cy="86.0" r="1.6" fill="#c2e05a"/>
<circle cx="110.7" cy="63.0" r="1.3" fill="#7fb236"/>
<circle cx="210.3" cy="144.8" r="1.7" fill="#9cc93f"/>
<circle cx="183.7" cy="61.7" r="2.3" fill="#5a8a28"/>
<circle cx="214.8" cy="141.9" r="2.4" fill="#7fb236"/>
<circle cx="179.0" cy="152.2" r="2.5" fill="#4d7a22"/>
<circle cx="193.7" cy="115.0" r="1.7" fill="#c2e05a"/>
<circle cx="74.2" cy="70.4" r="1.1" fill="#c2e05a"/>
<circle cx="32.8" cy="69.0" r="1.0" fill="#8bbd3a"/>
<circle cx="127.3" cy="60.4" r="2.4" fill="#b3d84c"/>
<circle cx="96.2" cy="71.9" r="0.9" fill="#b3d84c"/>
<circle cx="76.9" cy="63.0" r="1.7" fill="#c2e05a"/>
<circle cx="104.9" cy="98.5" r="1.2" fill="#a5cf45"/>
<circle cx="13.1" cy="145.1" r="2.0" fill="#9cc93f"/>
<circle cx="128.8" cy="138.4" r="1.1" fill="#9cc93f"/>
<circle cx="223.3" cy="92.8" r="1.3" fill="#9cc93f"/>
<circle cx="212.8" cy="55.0" r="1.4" fill="#7fb236"/>
<circle cx="13.2" cy="126.1" r="1.4" fill="#3a601b"/>
<circle cx="101.7" cy="101.4" r="1.8" fill="#8bbd3a"/>
<circle cx="0.4" cy="138.0" r="1.8" fill="#7fb236"/>
<circle cx="82.8" cy="48.6" r="1.6" fill="#b3d84c"/>
<circle cx="131.4" cy="59.6" r="1.2" fill="#9cc93f"/>
<circle cx="163.7" cy="66.2" r="1.0" fill="#5a8a28"/>
<circle cx="204.5" cy="126.6" r="2.2" fill="#7fb236"/>
<circle cx="47.4" cy="113.2" r="2.1" fill="#9cc93f"/>
<circle cx="134.1" cy="66.9" r="1.0" fill="#a5cf45"/>
<circle cx="93.9" cy="125.5" r="1.0" fill="#c2e05a"/>
<circle cx="77.1" cy="139.1" r="2.4" fill="#8bbd3a"/>
<circle cx="20.8" cy="90.3" r="2.2" fill="#7fb236"/>
<circle cx="200.6" cy="74.1" r="1.2" fill="#c2e05a"/>
<circle cx="8.4" cy="123.4" r="1.9" fill="#3a601b"/>
<circle cx="81.9" cy="149.3" r="2.5" fill="#5a8a28"/>
<circle cx="27.8" cy="124.7" r="2.3" fill="#c2e05a"/>
<circle cx="179.2" cy="142.1" r="1.9" fill="#3a601b"/>
<circle cx="67.1" cy="56.2" r="2.1" fill="#8bbd3a"/>
<circle cx="118.1" cy="103.9" r="1.8" fill="#3a601b"/>
<circle cx="56.0" cy="54.0" r="2.0" fill="#7fb236"/>
<circle cx="23.6" cy="72.3" r="2.3" fill="#3a601b"/>
<circle cx="4.5" cy="148.7" r="2.2" fill="#b3d84c"/>
<circle cx="4.1" cy="111.7" r="1.9" fill="#a5cf45"/>
<circle cx="54.8" cy="94.2" r="1.5" fill="#5a8a28"/>
<circle cx="164.9" cy="49.1" r="1.1" fill="#8bbd3a"/>
<circle cx="134.8" cy="130.1" r="1.1" fill="#5a8a28"/>
<circle cx="93.3" cy="59.5" r="1.9" fill="#9cc93f"/>
<circle cx="33.9" cy="108.7" r="2.2" fill="#7fb236"/>
<circle cx="218.1" cy="46.1" r="2.0" fill="#4d7a22"/>
<circle cx="137.3" cy="112.1" r="1.0" fill="#3a601b"/>
<circle cx="178.7" cy="82.3" r="1.3" fill="#c2e05a"/>
<circle cx="164.6" cy="139.3" r="1.9" fill="#c2e05a"/>
<circle cx="187.5" cy="139.8" r="1.0" fill="#a5cf45"/>
<circle cx="33.7" cy="120.9" r="1.5" fill="#4d7a22"/>
<circle cx="152.5" cy="45.3" r="1.1" fill="#7fb236"/>
<circle cx="15.9" cy="92.9" r="1.8" fill="#3a601b"/>
<circle cx="51.9" cy="91.5" r="1.6" fill="#8bbd3a"/>
<circle cx="145.6" cy="135.4" r="2.4" fill="#3a601b"/>
<circle cx="7.9" cy="116.5" r="1.4" fill="#b3d84c"/>
<circle cx="144.5" cy="135.1" r="1.0" fill="#5a8a28"/>
<circle cx="57.6" cy="102.8" r="1.6" fill="#3a601b"/>
<circle cx="66.1" cy="78.5" r="2.0" fill="#5a8a28"/>
<circle cx="13.9" cy="152.4" r="2.5" fill="#b3d84c"/>
<circle cx="19.4" cy="110.7" r="2.5" fill="#8bbd3a"/>
<circle cx="28.5" cy="58.8" r="1.4" fill="#4d7a22"/>
<circle cx="132.8" cy="75.0" r="2.2" fill="#a5cf45"/>
<circle cx="66.0" cy="95.3" r="2.1" fill="#9cc93f"/>
<circle cx="149.6" cy="66.7" r="2.1" fill="#8bbd3a"/>
<circle cx="205.1" cy="78.3" r="1.7" fill="#b3d84c"/>
<circle cx="7.1" cy="81.7" r="1.2" fill="#a5cf45"/>
<circle cx="88.1" cy="110.2" r="0.9" fill="#c2e05a"/>
<circle cx="37.3" cy="151.6" r="1.5" fill="#c2e05a"/>
<circle cx="113.0" cy="76.2" r="2.6" fill="#b3d84c"/>
<circle cx="13.1" cy="46.5" r="1.8" fill="#c2e05a"/>
<circle cx="101.2" cy="51.0" r="1.6" fill="#8bbd3a"/>
<circle cx="81.4" cy="130.2" r="1.8" fill="#7fb236"/>
<circle cx="95.9" cy="119.5" r="1.1" fill="#9cc93f"/>
<circle cx="141.7" cy="140.0" r="2.3" fill="#a5cf45"/>
<circle cx="21.9" cy="140.8" r="2.5" fill="#8bbd3a"/>
<circle cx="61.8" cy="115.3" r="2.0" fill="#7fb236"/>
<circle cx="95.0" cy="55.7" r="1.6" fill="#a5cf45"/>
<circle cx="134.7" cy="100.3" r="2.5" fill="#7fb236"/>
<circle cx="96.1" cy="132.6" r="2.4" fill="#5a8a28"/>
<circle cx="87.3" cy="95.1" r="1.7" fill="#c2e05a"/>
<circle cx="67.4" cy="88.1" r="1.8" fill="#4d7a22"/>
<circle cx="149.1" cy="44.8" r="2.2" fill="#8bbd3a"/>
<circle cx="87.6" cy="77.9" r="1.8" fill="#7fb236"/>
<circle cx="100.2" cy="86.6" r="1.3" fill="#c2e05a"/>
<circle cx="74.5" cy="139.3" r="2.3" fill="#c2e05a"/>
<circle cx="47.0" cy="92.2" r="2.4" fill="#3a601b"/>
<circle cx="5.9" cy="73.0" r="2.4" fill="#b3d84c"/>
<circle cx="211.7" cy="131.4" r="1.8" fill="#4d7a22"/>
<circle cx="119.0" cy="102.5" r="2.1" fill="#4d7a22"/>
<circle cx="106.8" cy="48.6" r="2.0" fill="#8bbd3a"/>
<circle cx="218.0" cy="120.4" r="1.8" fill="#5a8a28"/>
<circle cx="94.2" cy="100.6" r="2.0" fill="#7fb236"/>
<circle cx="202.4" cy="153.0" r="1.7" fill="#8bbd3a"/>
<circle cx="176.5" cy="145.6" r="1.9" fill="#a5cf45"/>
<circle cx="171.7" cy="54.4" r="1.5" fill="#c2e05a"/>
<circle cx="225.0" cy="137.3" r="1.8" fill="#5a8a28"/>
<circle cx="150.9" cy="77.3" r="1.5" fill="#a5cf45"/>
<circle cx="204.3" cy="91.6" r="1.2" fill="#b3d84c"/>
<circle cx="187.7" cy="67.5" r="2.4" fill="#4d7a22"/>
<circle cx="42.0" cy="115.2" r="1.9" fill="#c2e05a"/>
<circle cx="131.1" cy="115.3" r="2.1" fill="#4d7a22"/>
<circle cx="2.5" cy="44.3" r="2.1" fill="#a5cf45"/>
<circle cx="0.9" cy="78.4" r="2.3" fill="#3a601b"/>
<circle cx="153.7" cy="66.2" r="1.7" fill="#a5cf45"/>
<circle cx="130.4" cy="142.4" r="2.4" fill="#a5cf45"/>
<circle cx="229.3" cy="108.9" r="1.6" fill="#5a8a28"/>
<circle cx="33.4" cy="102.6" r="1.8" fill="#3a601b"/>
<circle cx="23.0" cy="63.3" r="1.8" fill="#8bbd3a"/>
<circle cx="141.0" cy="135.1" r="1.0" fill="#3a601b"/>
<circle cx="157.4" cy="109.4" r="1.1" fill="#9cc93f"/>
<circle cx="81.4" cy="63.1" r="1.4" fill="#5a8a28"/>
<circle cx="197.6" cy="151.1" r="1.0" fill="#9cc93f"/>
<circle cx="103.5" cy="87.6" r="1.0" fill="#4d7a22"/>
<circle cx="134.0" cy="152.4" r="1.6" fill="#9cc93f"/>
<circle cx="57.3" cy="49.0" r="2.5" fill="#7fb236"/>
<circle cx="72.4" cy="145.6" r="2.3" fill="#b3d84c"/>
<circle cx="96.2" cy="72.5" r="2.4" fill="#5a8a28"/>
<circle cx="55.9" cy="88.0" r="2.1" fill="#9cc93f"/>
<circle cx="95.1" cy="89.0" r="2.1" fill="#3a601b"/>
<circle cx="182.3" cy="71.5" r="1.2" fill="#c2e05a"/>
<circle cx="87.2" cy="44.9" r="2.4" fill="#4d7a22"/>
<circle cx="129.2" cy="57.0" r="1.8" fill="#4d7a22"/>
<circle cx="77.3" cy="117.6" r="2.5" fill="#4d7a22"/>
<circle cx="189.9" cy="83.7" r="1.3" fill="#9cc93f"/>
<circle cx="107.4" cy="82.9" r="1.6" fill="#b3d84c"/>
<circle cx="152.8" cy="82.6" r="1.2" fill="#7fb236"/>
<circle cx="21.3" cy="74.5" r="2.3" fill="#7fb236"/>
<circle cx="127.6" cy="96.8" r="2.3" fill="#9cc93f"/>
<circle cx="36.6" cy="83.9" r="2.1" fill="#4d7a22"/>
<circle cx="144.7" cy="109.6" r="1.4" fill="#8bbd3a"/>
<circle cx="116.1" cy="69.7" r="1.7" fill="#7fb236"/>
<circle cx="216.7" cy="156.8" r="1.9" fill="#8bbd3a"/>
<circle cx="135.1" cy="85.6" r="1.3" fill="#a5cf45"/>
<circle cx="48.9" cy="142.6" r="1.1" fill="#a5cf45"/>
<circle cx="21.0" cy="140.3" r="2.2" fill="#4d7a22"/>
<circle cx="6.6" cy="125.2" r="1.1" fill="#3a601b"/>
<circle cx="89.7" cy="53.7" r="1.2" fill="#9cc93f"/>
<circle cx="73.8" cy="118.9" r="1.1" fill="#a5cf45"/>
<circle cx="210.2" cy="135.0" r="2.2" fill="#9cc93f"/>
<circle cx="15.2" cy="79.2" r="1.3" fill="#7fb236"/>
<circle cx="187.9" cy="89.1" r="1.5" fill="#8bbd3a"/>
<circle cx="178.2" cy="143.8" r="2.4" fill="#7fb236"/>
<circle cx="215.5" cy="63.9" r="1.5" fill="#c2e05a"/>
<circle cx="206.3" cy="46.9" r="2.1" fill="#8bbd3a"/>
<circle cx="57.1" cy="139.7" r="1.5" fill="#5a8a28"/>
<circle cx="41.8" cy="57.0" r="2.5" fill="#9cc93f"/>
<circle cx="163.9" cy="48.6" r="1.0" fill="#7fb236"/>
<circle cx="99.1" cy="129.5" r="1.2" fill="#3a601b"/>
<circle cx="127.0" cy="115.1" r="2.5" fill="#9cc93f"/>
<circle cx="131.1" cy="125.0" r="1.3" fill="#4d7a22"/>
<circle cx="154.1" cy="109.0" r="2.5" fill="#5a8a28"/>
<circle cx="191.9" cy="131.7" r="1.4" fill="#3a601b"/>
<circle cx="201.3" cy="110.1" r="2.1" fill="#9cc93f"/>
<circle cx="156.6" cy="48.2" r="1.4" fill="#c2e05a"/>
<circle cx="172.4" cy="53.7" r="2.1" fill="#4d7a22"/>
<circle cx="229.6" cy="113.5" r="1.3" fill="#a5cf45"/>
<circle cx="20.7" cy="150.9" r="1.6" fill="#c2e05a"/>
<circle cx="159.1" cy="127.5" r="2.3" fill="#8bbd3a"/>
<circle cx="117.0" cy="120.5" r="1.3" fill="#a5cf45"/>
<circle cx="194.7" cy="131.9" r="1.7" fill="#9cc93f"/>
<circle cx="10.0" cy="123.4" r="2.3" fill="#b3d84c"/>
<circle cx="40.1" cy="62.5" r="2.2" fill="#9cc93f"/>
<circle cx="125.1" cy="72.2" r="1.0" fill="#c2e05a"/>
<circle cx="79.9" cy="54.5" r="2.0" fill="#7fb236"/>
<circle cx="31.4" cy="123.9" r="2.0" fill="#9cc93f"/>
<circle cx="162.3" cy="44.7" r="2.1" fill="#7fb236"/>
<circle cx="215.2" cy="83.7" r="1.4" fill="#7fb236"/>
<circle cx="135.1" cy="71.2" r="2.0" fill="#5a8a28"/>
<circle cx="126.1" cy="129.9" r="1.2" fill="#7fb236"/>
<circle cx="137.7" cy="96.1" r="2.2" fill="#9cc93f"/>
<circle cx="26.3" cy="76.7" r="1.5" fill="#9cc93f"/>
<circle cx="10.0" cy="145.2" r="1.4" fill="#5a8a28"/>
<circle cx="161.4" cy="94.6" r="1.1" fill="#c2e05a"/>
<circle cx="102.4" cy="108.3" r="1.4" fill="#a5cf45"/>
<circle cx="16.5" cy="45.2" r="2.6" fill="#8bbd3a"/>
<circle cx="19.3" cy="125.0" r="2.6" fill="#b3d84c"/>
<circle cx="25.0" cy="99.2" r="1.6" fill="#9cc93f"/>
<circle cx="180.3" cy="80.4" r="1.5" fill="#5a8a28"/>
<circle cx="148.2" cy="114.9" r="2.5" fill="#b3d84c"/>
<circle cx="150.2" cy="52.8" r="2.2" fill="#3a601b"/>
<circle cx="178.1" cy="138.9" r="1.4" fill="#7fb236"/>
<circle cx="221.3" cy="103.4" r="2.4" fill="#7fb236"/>
<circle cx="23.5" cy="125.2" r="1.4" fill="#c2e05a"/>
<circle cx="87.3" cy="117.1" r="1.5" fill="#9cc93f"/>
<circle cx="84.8" cy="106.3" r="1.5" fill="#b3d84c"/>
<circle cx="55.1" cy="48.7" r="1.9" fill="#4d7a22"/>
<circle cx="208.2" cy="150.8" r="1.7" fill="#8bbd3a"/>
<circle cx="168.1" cy="156.5" r="1.9" fill="#5a8a28"/>
<circle cx="32.6" cy="69.7" r="1.1" fill="#4d7a22"/>
<circle cx="20.6" cy="48.5" r="1.6" fill="#9cc93f"/>
<circle cx="50.2" cy="86.1" r="1.0" fill="#a5cf45"/>
<circle cx="97.9" cy="76.0" r="2.0" fill="#a5cf45"/>
<circle cx="163.5" cy="144.6" r="1.0" fill="#3a601b"/>
<circle cx="153.2" cy="137.3" r="2.4" fill="#7fb236"/>
<circle cx="87.1" cy="44.5" r="2.3" fill="#c2e05a"/>
<circle cx="130.5" cy="97.0" r="1.8" fill="#a5cf45"/>
<circle cx="105.9" cy="153.8" r="2.4" fill="#7fb236"/>
<circle cx="224.1" cy="152.7" r="2.0" fill="#3a601b"/>
<circle cx="166.2" cy="81.5" r="2.0" fill="#4d7a22"/>
<circle cx="219.1" cy="98.3" r="2.0" fill="#b3d84c"/>
<circle cx="199.0" cy="103.9" r="2.0" fill="#9cc93f"/>
<circle cx="51.2" cy="127.6" r="2.1" fill="#7fb236"/>
<circle cx="151.9" cy="86.0" r="1.9" fill="#4d7a22"/>
<circle cx="82.8" cy="71.1" r="1.7" fill="#b3d84c"/>
<circle cx="26.3" cy="64.4" r="2.4" fill="#a5cf45"/>
<circle cx="172.5" cy="69.0" r="2.3" fill="#5a8a28"/>
<circle cx="43.1" cy="119.7" r="2.1" fill="#9cc93f"/>
<circle cx="127.4" cy="69.6" r="1.9" fill="#5a8a28"/>
<circle cx="169.2" cy="146.7" r="1.9" fill="#4d7a22"/>
<circle cx="156.3" cy="134.4" r="1.1" fill="#a5cf45"/>
<circle cx="126.6" cy="124.8" r="2.2" fill="#5a8a28"/>
<circle cx="144.1" cy="152.5" r="1.8" fill="#8bbd3a"/>
<circle cx="190.9" cy="88.3" r="1.2" fill="#9cc93f"/>
<circle cx="129.5" cy="131.6" r="1.1" fill="#3a601b"/>
<circle cx="93.0" cy="49.3" r="1.0" fill="#9cc93f"/>
<circle cx="105.7" cy="57.6" r="1.1" fill="#5a8a28"/>
<circle cx="142.9" cy="142.6" r="1.9" fill="#c2e05a"/>
<circle cx="38.6" cy="128.2" r="1.5" fill="#3a601b"/>
<circle cx="189.9" cy="57.9" r="1.5" fill="#a5cf45"/>
<circle cx="218.0" cy="125.6" r="1.0" fill="#c2e05a"/>
<circle cx="22.9" cy="106.0" r="2.3" fill="#5a8a28"/>
<circle cx="7.9" cy="146.9" r="1.3" fill="#c2e05a"/>
<circle cx="44.4" cy="94.5" r="2.3" fill="#8bbd3a"/>
<circle cx="26.1" cy="46.4" r="1.1" fill="#b3d84c"/>
<circle cx="42.6" cy="106.6" r="1.4" fill="#4d7a22"/>
<circle cx="192.3" cy="110.5" r="1.3" fill="#b3d84c"/>
<circle cx="218.2" cy="45.6" r="1.5" fill="#7fb236"/>
<circle cx="112.0" cy="98.7" r="1.0" fill="#3a601b"/>
<circle cx="17.2" cy="114.1" r="2.0" fill="#4d7a22"/>
<circle cx="193.9" cy="153.3" r="2.1" fill="#8bbd3a"/>
<circle cx="90.5" cy="142.7" r="1.9" fill="#5a8a28"/>
<circle cx="83.0" cy="103.7" r="1.4" fill="#7fb236"/>
<circle cx="135.5" cy="48.9" r="1.2" fill="#c2e05a"/>
<circle cx="167.3" cy="81.4" r="1.7" fill="#c2e05a"/>
<circle cx="72.3" cy="81.9" r="1.7" fill="#9cc93f"/>
<circle cx="4.7" cy="95.9" r="2.6" fill="#3a601b"/>
<circle cx="145.1" cy="126.1" r="1.1" fill="#4d7a22"/>
<circle cx="62.9" cy="100.5" r="1.3" fill="#a5cf45"/>
<circle cx="134.4" cy="59.7" r="2.1" fill="#a5cf45"/>
<circle cx="207.6" cy="54.8" r="1.2" fill="#4d7a22"/>
<circle cx="145.6" cy="115.7" r="1.5" fill="#b3d84c"/>
<circle cx="182.4" cy="70.9" r="2.3" fill="#7fb236"/>
<circle cx="156.7" cy="78.4" r="2.2" fill="#c2e05a"/>
<circle cx="117.0" cy="115.8" r="1.5" fill="#a5cf45"/>
<circle cx="164.6" cy="81.8" r="2.1" fill="#c2e05a"/>
<circle cx="203.2" cy="132.4" r="1.8" fill="#9cc93f"/>
<circle cx="186.1" cy="156.6" r="1.2" fill="#9cc93f"/>
<circle cx="1.7" cy="142.4" r="1.7" fill="#8bbd3a"/>
<circle cx="91.1" cy="131.3" r="2.5" fill="#5a8a28"/>
<circle cx="33.1" cy="125.3" r="1.3" fill="#a5cf45"/>
<circle cx="151.5" cy="153.1" r="1.0" fill="#9cc93f"/>
<circle cx="134.2" cy="53.0" r="1.2" fill="#c2e05a"/>
<circle cx="227.1" cy="84.3" r="2.2" fill="#4d7a22"/>
<circle cx="165.9" cy="148.2" r="2.3" fill="#c2e05a"/>
<circle cx="206.8" cy="75.2" r="1.3" fill="#3a601b"/>
<circle cx="174.5" cy="114.8" r="1.3" fill="#3a601b"/>
<circle cx="50.2" cy="89.2" r="1.2" fill="#b3d84c"/>
<circle cx="198.7" cy="117.2" r="1.2" fill="#3a601b"/>
<circle cx="221.5" cy="111.9" r="1.0" fill="#c2e05a"/>
<circle cx="165.4" cy="44.6" r="1.4" fill="#3a601b"/>
<circle cx="147.2" cy="148.3" r="1.3" fill="#c2e05a"/>
<circle cx="199.6" cy="47.1" r="1.7" fill="#c2e05a"/>
<circle cx="40.1" cy="141.6" r="2.3" fill="#5a8a28"/>
<circle cx="144.1" cy="81.8" r="1.7" fill="#4d7a22"/>
<circle cx="59.1" cy="96.4" r="0.9" fill="#c2e05a"/>
<circle cx="129.8" cy="155.6" r="1.0" fill="#c2e05a"/>
<circle cx="36.0" cy="46.1" r="1.3" fill="#a5cf45"/>
<circle cx="176.5" cy="54.2" r="2.3" fill="#4d7a22"/>
<circle cx="79.1" cy="120.9" r="2.4" fill="#7fb236"/>
<circle cx="151.2" cy="112.0" r="1.5" fill="#b3d84c"/>
<circle cx="187.1" cy="98.0" r="1.0" fill="#b3d84c"/>
<circle cx="149.9" cy="106.1" r="2.1" fill="#a5cf45"/>
<circle cx="64.0" cy="103.1" r="2.5" fill="#7fb236"/>
<circle cx="58.2" cy="107.1" r="1.1" fill="#c2e05a"/>
<circle cx="34.6" cy="115.1" r="1.6" fill="#5a8a28"/>
<circle cx="215.5" cy="114.6" r="1.1" fill="#a5cf45"/>
<circle cx="115.4" cy="106.7" r="1.2" fill="#c2e05a"/>
<circle cx="169.6" cy="146.0" r="2.4" fill="#7fb236"/>
<circle cx="121.6" cy="83.6" r="2.1" fill="#8bbd3a"/>
<circle cx="225.9" cy="100.4" r="2.0" fill="#c2e05a"/>
<circle cx="207.2" cy="88.0" r="1.3" fill="#3a601b"/>
<circle cx="24.8" cy="126.9" r="1.0" fill="#4d7a22"/>
<circle cx="155.1" cy="83.6" r="1.3" fill="#4d7a22"/>
<circle cx="94.3" cy="147.9" r="2.5" fill="#9cc93f"/>
<circle cx="7.1" cy="46.3" r="2.1" fill="#9cc93f"/>
<circle cx="53.2" cy="67.0" r="2.2" fill="#b3d84c"/>
<circle cx="68.6" cy="156.4" r="1.3" fill="#7fb236"/>
<circle cx="109.8" cy="149.5" r="2.2" fill="#7fb236"/>
<circle cx="189.3" cy="75.9" r="1.5" fill="#8bbd3a"/>
<circle cx="200.6" cy="72.2" r="1.4" fill="#8bbd3a"/>
<circle cx="48.8" cy="49.9" r="2.2" fill="#c2e05a"/>
<circle cx="10.6" cy="131.5" r="1.6" fill="#4d7a22"/>
<circle cx="198.7" cy="156.4" r="1.4" fill="#3a601b"/>
<circle cx="185.2" cy="61.2" r="2.5" fill="#7fb236"/>
<circle cx="209.7" cy="61.0" r="2.2" fill="#5a8a28"/>
<circle cx="172.8" cy="96.5" r="1.6" fill="#4d7a22"/>
<circle cx="78.1" cy="147.8" r="2.1" fill="#c2e05a"/>
<circle cx="225.3" cy="47.7" r="1.3" fill="#3a601b"/>
<circle cx="8.7" cy="101.0" r="1.3" fill="#4d7a22"/>
<circle cx="160.6" cy="126.3" r="1.0" fill="#c2e05a"/>
<circle cx="14.8" cy="56.5" r="2.5" fill="#7fb236"/>
<circle cx="120.8" cy="44.3" r="1.3" fill="#a5cf45"/>
<circle cx="34.0" cy="127.4" r="1.8" fill="#5a8a28"/>
<circle cx="121.9" cy="138.9" r="2.5" fill="#5a8a28"/>
<circle cx="80.4" cy="68.3" r="2.5" fill="#9cc93f"/>
<circle cx="168.2" cy="74.8" r="1.2" fill="#b3d84c"/>
<circle cx="61.9" cy="153.2" r="1.2" fill="#3a601b"/>
<circle cx="93.9" cy="106.9" r="1.5" fill="#3a601b"/>
<circle cx="74.9" cy="48.7" r="1.7" fill="#b3d84c"/>
<circle cx="126.2" cy="122.0" r="2.6" fill="#b3d84c"/>
<circle cx="91.8" cy="80.0" r="1.6" fill="#7fb236"/>
<circle cx="89.0" cy="87.6" r="1.6" fill="#7fb236"/>
<circle cx="206.6" cy="115.8" r="1.3" fill="#a5cf45"/>
<circle cx="213.0" cy="72.8" r="1.9" fill="#4d7a22"/>
<circle cx="227.9" cy="137.3" r="2.0" fill="#5a8a28"/>
<circle cx="193.9" cy="132.6" r="2.4" fill="#3a601b"/>
<circle cx="93.3" cy="107.1" r="2.1" fill="#8bbd3a"/>
<circle cx="126.3" cy="79.7" r="2.6" fill="#3a601b"/>
<circle cx="108.9" cy="117.1" r="1.7" fill="#c2e05a"/>
<circle cx="136.2" cy="156.4" r="1.3" fill="#4d7a22"/>
<circle cx="81.7" cy="51.2" r="2.6" fill="#b3d84c"/>
<circle cx="140.9" cy="120.5" r="1.4" fill="#a5cf45"/>
<circle cx="152.8" cy="148.4" r="2.2" fill="#b3d84c"/>
<circle cx="209.0" cy="97.5" r="2.1" fill="#a5cf45"/>
<circle cx="135.6" cy="108.5" r="2.6" fill="#5a8a28"/>
<circle cx="213.3" cy="103.7" r="1.8" fill="#a5cf45"/>
<circle cx="38.9" cy="85.3" r="2.0" fill="#7fb236"/>
<circle cx="189.0" cy="96.0" r="2.0" fill="#3a601b"/>
<circle cx="74.1" cy="84.9" r="2.4" fill="#4d7a22"/>
<circle cx="28.3" cy="61.4" r="1.3" fill="#5a8a28"/>
<circle cx="83.9" cy="118.9" r="1.8" fill="#b3d84c"/>
<circle cx="104.1" cy="53.9" r="1.6" fill="#8bbd3a"/>
<circle cx="159.9" cy="94.8" r="1.7" fill="#7fb236"/>
<circle cx="174.5" cy="60.9" r="2.1" fill="#c2e05a"/>
<circle cx="112.4" cy="118.6" r="2.0" fill="#a5cf45"/>
<circle cx="78.2" cy="87.1" r="0.9" fill="#9cc93f"/>
<circle cx="0.2" cy="73.3" r="1.9" fill="#b3d84c"/>
<circle cx="165.2" cy="75.0" r="1.5" fill="#9cc93f"/>
<circle cx="61.0" cy="93.5" r="1.8" fill="#8bbd3a"/>
<circle cx="197.5" cy="66.8" r="1.6" fill="#b3d84c"/>
<circle cx="142.1" cy="86.0" r="1.0" fill="#8bbd3a"/>
<circle cx="86.4" cy="48.7" r="2.2" fill="#4d7a22"/>
<circle cx="99.1" cy="112.6" r="1.3" fill="#9cc93f"/>
<circle cx="88.6" cy="109.4" r="2.5" fill="#9cc93f"/>
<circle cx="224.9" cy="140.2" r="1.9" fill="#5a8a28"/>
<circle cx="153.1" cy="81.2" r="1.0" fill="#8bbd3a"/>
<circle cx="87.3" cy="103.4" r="1.7" fill="#3a601b"/>
<circle cx="24.8" cy="107.7" r="2.5" fill="#4d7a22"/>
<circle cx="95.4" cy="97.5" r="2.4" fill="#8bbd3a"/>
<circle cx="91.5" cy="59.3" r="2.2" fill="#3a601b"/>
<circle cx="154.2" cy="127.7" r="1.6" fill="#3a601b"/>
<circle cx="212.9" cy="77.2" r="1.5" fill="#4d7a22"/>
<circle cx="177.1" cy="57.3" r="1.3" fill="#5a8a28"/>
<circle cx="131.3" cy="45.7" r="1.7" fill="#9cc93f"/>
<circle cx="129.8" cy="50.2" r="2.1" fill="#c2e05a"/>
<circle cx="111.0" cy="50.2" r="2.1" fill="#4d7a22"/>
<circle cx="194.0" cy="59.8" r="1.6" fill="#3a601b"/>
<circle cx="200.5" cy="60.4" r="1.5" fill="#a5cf45"/>
<circle cx="225.9" cy="65.0" r="1.8" fill="#a5cf45"/>
<circle cx="60.3" cy="79.4" r="1.3" fill="#b3d84c"/>
<circle cx="127.8" cy="101.7" r="1.6" fill="#3a601b"/>
<circle cx="70.6" cy="72.1" r="1.5" fill="#4d7a22"/>
<circle cx="197.0" cy="73.1" r="1.2" fill="#3a601b"/>
<circle cx="47.7" cy="117.7" r="2.5" fill="#8bbd3a"/>
<circle cx="163.3" cy="60.0" r="2.5" fill="#c2e05a"/>
<circle cx="46.1" cy="147.9" r="1.8" fill="#3a601b"/>
<circle cx="167.7" cy="45.0" r="1.0" fill="#c2e05a"/>
<circle cx="8.1" cy="68.8" r="1.6" fill="#9cc93f"/>
<circle cx="163.4" cy="134.7" r="1.9" fill="#8bbd3a"/>
<circle cx="93.4" cy="126.2" r="1.2" fill="#9cc93f"/>
<circle cx="13.3" cy="93.0" r="2.0" fill="#3a601b"/>
<circle cx="31.5" cy="143.4" r="2.3" fill="#8bbd3a"/>
<circle cx="41.4" cy="148.2" r="1.9" fill="#7fb236"/>
<circle cx="114.6" cy="120.1" r="2.0" fill="#b3d84c"/>
<circle cx="184.4" cy="104.4" r="1.2" fill="#9cc93f"/>
<circle cx="118.7" cy="96.6" r="1.2" fill="#5a8a28"/>
<circle cx="218.7" cy="90.9" r="2.0" fill="#b3d84c"/>
<circle cx="162.4" cy="94.0" r="1.6" fill="#3a601b"/>
<circle cx="212.5" cy="59.1" r="1.2" fill="#8bbd3a"/>
<circle cx="67.5" cy="70.3" r="1.9" fill="#c2e05a"/>
<circle cx="162.6" cy="125.3" r="1.4" fill="#b3d84c"/>
<circle cx="74.6" cy="139.1" r="1.2" fill="#9cc93f"/>
<circle cx="90.0" cy="47.7" r="1.5" fill="#b3d84c"/>
<circle cx="51.4" cy="105.7" r="1.1" fill="#8bbd3a"/>
<circle cx="34.3" cy="64.8" r="1.5" fill="#4d7a22"/>
<circle cx="26.3" cy="137.6" r="1.1" fill="#9cc93f"/>
<circle cx="229.1" cy="150.2" r="1.8" fill="#b3d84c"/>
<circle cx="112.7" cy="46.0" r="2.2" fill="#5a8a28"/>
<circle cx="46.1" cy="75.6" r="1.4" fill="#a5cf45"/>
<circle cx="173.9" cy="66.7" r="1.7" fill="#9cc93f"/>
<circle cx="133.1" cy="77.9" r="1.9" fill="#5a8a28"/>
<circle cx="222.5" cy="82.9" r="2.5" fill="#b3d84c"/>
<circle cx="11.5" cy="81.6" r="1.7" fill="#9cc93f"/>
<circle cx="75.8" cy="85.1" r="1.1" fill="#b3d84c"/>
<circle cx="186.1" cy="125.8" r="1.7" fill="#a5cf45"/>
<circle cx="26.0" cy="62.2" r="1.6" fill="#3a601b"/>
<circle cx="7.8" cy="102.0" r="1.1" fill="#7fb236"/>
<circle cx="95.5" cy="138.6" r="1.0" fill="#7fb236"/>
<circle cx="82.7" cy="118.9" r="1.1" fill="#3a601b"/>
<circle cx="193.7" cy="142.7" r="1.7" fill="#7fb236"/>
<circle cx="60.1" cy="56.0" r="1.3" fill="#7fb236"/>
<circle cx="114.1" cy="104.6" r="1.1" fill="#8bbd3a"/>
<circle cx="56.6" cy="108.2" r="1.0" fill="#b3d84c"/>
<circle cx="84.4" cy="66.3" r="1.6" fill="#9cc93f"/>
<circle cx="227.2" cy="146.6" r="2.1" fill="#a5cf45"/>
<circle cx="115.4" cy="144.6" r="0.9" fill="#3a601b"/>
<circle cx="112.3" cy="133.4" r="1.9" fill="#9cc93f"/>
<circle cx="20.0" cy="63.4" r="2.3" fill="#3a601b"/>
<circle cx="97.5" cy="114.5" r="1.1" fill="#5a8a28"/>
<circle cx="19.4" cy="109.4" r="1.3" fill="#a5cf45"/>
<circle cx="163.5" cy="51.0" r="1.3" fill="#c2e05a"/>
<circle cx="226.1" cy="48.7" r="2.0" fill="#7fb236"/>
<circle cx="187.4" cy="82.7" r="2.3" fill="#8bbd3a"/>
<circle cx="136.1" cy="64.7" r="1.4" fill="#4d7a22"/>
<circle cx="180.9" cy="47.6" r="2.2" fill="#7fb236"/>
<circle cx="168.8" cy="120.7" r="1.2" fill="#c2e05a"/>
<circle cx="177.1" cy="67.0" r="2.5" fill="#c2e05a"/>
<circle cx="163.0" cy="51.6" r="0.9" fill="#8bbd3a"/>
<circle cx="8.7" cy="103.4" r="1.5" fill="#5a8a28"/>
<circle cx="172.8" cy="115.9" r="1.2" fill="#3a601b"/>
<circle cx="194.5" cy="132.9" r="1.1" fill="#c2e05a"/>
<circle cx="134.0" cy="134.8" r="1.7" fill="#8bbd3a"/>
<circle cx="31.0" cy="137.6" r="2.5" fill="#3a601b"/>
<circle cx="171.3" cy="138.1" r="2.3" fill="#7fb236"/>
<circle cx="100.1" cy="137.2" r="2.2" fill="#a5cf45"/>
<circle cx="68.8" cy="152.6" r="1.8" fill="#5a8a28"/>
<circle cx="15.6" cy="132.5" r="2.3" fill="#9cc93f"/>
<circle cx="55.2" cy="110.4" r="1.9" fill="#8bbd3a"/>
<circle cx="132.3" cy="149.5" r="2.4" fill="#3a601b"/>
<circle cx="90.2" cy="132.6" r="2.2" fill="#c2e05a"/>
<circle cx="189.9" cy="89.9" r="1.0" fill="#c2e05a"/>
<circle cx="152.6" cy="146.2" r="1.6" fill="#b3d84c"/>
<circle cx="1.0" cy="99.3" r="0.9" fill="#5a8a28"/>
<circle cx="202.0" cy="97.7" r="1.6" fill="#b3d84c"/>
<circle cx="105.2" cy="81.9" r="1.3" fill="#c2e05a"/>
<circle cx="90.6" cy="96.7" r="1.0" fill="#c2e05a"/>
<circle cx="20.2" cy="74.6" r="2.1" fill="#8bbd3a"/>
<circle cx="93.7" cy="104.8" r="1.3" fill="#9cc93f"/>
<circle cx="157.1" cy="48.7" r="2.3" fill="#7fb236"/>
<circle cx="89.6" cy="81.6" r="1.2" fill="#7fb236"/>
<circle cx="51.6" cy="144.6" r="1.9" fill="#4d7a22"/>
<circle cx="71.0" cy="80.0" r="2.4" fill="#9cc93f"/>
<circle cx="197.1" cy="153.4" r="1.6" fill="#3a601b"/>
<circle cx="0.1" cy="63.8" r="2.5" fill="#8bbd3a"/>
<circle cx="130.0" cy="118.3" r="2.2" fill="#5a8a28"/>
<circle cx="226.4" cy="127.0" r="2.2" fill="#4d7a22"/>
<circle cx="31.1" cy="129.1" r="1.3" fill="#4d7a22"/>
<circle cx="17.5" cy="114.5" r="1.7" fill="#b3d84c"/>
<circle cx="83.2" cy="118.7" r="2.0" fill="#4d7a22"/>
<circle cx="215.7" cy="135.4" r="1.0" fill="#8bbd3a"/>
<circle cx="113.5" cy="122.1" r="0.9" fill="#5a8a28"/>
<circle cx="128.2" cy="94.6" r="2.2" fill="#7fb236"/>
<circle cx="167.6" cy="128.7" r="1.0" fill="#c2e05a"/>
<circle cx="111.0" cy="44.8" r="2.5" fill="#b3d84c"/>
<circle cx="33.2" cy="110.4" r="1.9" fill="#3a601b"/>
<circle cx="229.5" cy="63.6" r="1.9" fill="#b3d84c"/>
<circle cx="144.3" cy="71.3" r="2.2" fill="#3a601b"/>
<circle cx="96.8" cy="154.5" r="2.0" fill="#4d7a22"/>
<circle cx="113.4" cy="154.1" r="1.5" fill="#b3d84c"/>
<circle cx="74.6" cy="138.2" r="1.7" fill="#3a601b"/>
<circle cx="182.5" cy="83.2" r="1.1" fill="#a5cf45"/>
<circle cx="185.7" cy="51.0" r="1.4" fill="#a5cf45"/>
<circle cx="39.3" cy="79.3" r="1.0" fill="#b3d84c"/>
<circle cx="223.4" cy="131.8" r="1.5" fill="#7fb236"/>
<circle cx="62.6" cy="144.7" r="1.7" fill="#c2e05a"/>
<circle cx="213.5" cy="89.5" r="2.1" fill="#c2e05a"/>
<circle cx="90.6" cy="87.6" r="2.5" fill="#b3d84c"/>
<circle cx="25.9" cy="148.6" r="2.0" fill="#a5cf45"/>
<circle cx="192.5" cy="116.0" r="2.2" fill="#c2e05a"/>
<circle cx="10.1" cy="75.5" r="1.8" fill="#a5cf45"/>
<circle cx="195.1" cy="90.5" r="1.0" fill="#4d7a22"/>
<circle cx="83.4" cy="147.7" r="1.8" fill="#b3d84c"/>
<circle cx="195.8" cy="57.7" r="1.7" fill="#3a601b"/>
<circle cx="9.5" cy="137.4" r="1.9" fill="#c2e05a"/>
<circle cx="138.5" cy="84.7" r="2.6" fill="#5a8a28"/>
<circle cx="201.4" cy="54.9" r="1.9" fill="#4d7a22"/>
<circle cx="191.9" cy="124.4" r="2.5" fill="#7fb236"/>
<circle cx="148.3" cy="153.3" r="2.0" fill="#5a8a28"/>
<circle cx="178.2" cy="88.6" r="2.5" fill="#c2e05a"/>
<circle cx="92.0" cy="100.5" r="1.5" fill="#7fb236"/>
<circle cx="163.8" cy="60.2" r="2.2" fill="#4d7a22"/>
<circle cx="154.0" cy="145.9" r="1.1" fill="#c2e05a"/>
<circle cx="156.8" cy="148.5" r="1.0" fill="#3a601b"/>
<circle cx="195.9" cy="119.5" r="1.9" fill="#4d7a22"/>
<circle cx="49.2" cy="126.3" r="2.2" fill="#7fb236"/>
<circle cx="34.8" cy="119.9" r="2.2" fill="#a5cf45"/>
<circle cx="28.7" cy="75.9" r="1.0" fill="#4d7a22"/>
<circle cx="202.1" cy="58.8" r="2.1" fill="#4d7a22"/>
<circle cx="140.8" cy="75.1" r="1.0" fill="#a5cf45"/>
<circle cx="62.8" cy="68.1" r="1.3" fill="#5a8a28"/>
<circle cx="82.7" cy="108.3" r="2.4" fill="#5a8a28"/>
<circle cx="82.7" cy="123.0" r="1.0" fill="#c2e05a"/>
<circle cx="50.2" cy="95.7" r="2.2" fill="#8bbd3a"/>
<circle cx="63.3" cy="50.7" r="1.7" fill="#a5cf45"/>
<circle cx="137.0" cy="47.6" r="1.8" fill="#8bbd3a"/>
<circle cx="25.4" cy="69.4" r="2.0" fill="#c2e05a"/>
<circle cx="221.9" cy="104.0" r="1.3" fill="#a5cf45"/>
<circle cx="182.5" cy="67.6" r="2.3" fill="#a5cf45"/>
<circle cx="164.0" cy="69.2" r="1.2" fill="#a5cf45"/>
<circle cx="61.7" cy="86.3" r="2.5" fill="#b3d84c"/>
<circle cx="166.6" cy="110.1" r="1.6" fill="#a5cf45"/>
<circle cx="219.5" cy="90.2" r="2.0" fill="#3a601b"/>
<circle cx="185.0" cy="152.6" r="1.5" fill="#b3d84c"/>
<circle cx="16.4" cy="98.0" r="1.1" fill="#8bbd3a"/>
<circle cx="222.9" cy="143.5" r="2.0" fill="#9cc93f"/>
<circle cx="78.6" cy="65.5" r="1.6" fill="#b3d84c"/>
<circle cx="174.7" cy="52.6" r="2.4" fill="#3a601b"/>
<circle cx="100.9" cy="66.3" r="2.1" fill="#9cc93f"/>
<circle cx="177.9" cy="66.7" r="2.2" fill="#b3d84c"/>
<circle cx="172.0" cy="151.2" r="2.5" fill="#3a601b"/>
<circle cx="14.4" cy="67.2" r="0.9" fill="#a5cf45"/>
<circle cx="60.7" cy="84.2" r="1.2" fill="#c2e05a"/>
<circle cx="228.0" cy="78.5" r="1.0" fill="#7fb236"/>
<circle cx="159.0" cy="91.6" r="0.9" fill="#8bbd3a"/>
<circle cx="177.7" cy="82.8" r="2.4" fill="#c2e05a"/>
<circle cx="178.8" cy="97.3" r="2.6" fill="#c2e05a"/>
<circle cx="182.8" cy="97.8" r="2.3" fill="#7fb236"/>
<circle cx="195.5" cy="103.7" r="1.3" fill="#4d7a22"/>
<circle cx="48.1" cy="72.5" r="0.9" fill="#9cc93f"/>
<circle cx="163.3" cy="150.8" r="2.6" fill="#4d7a22"/>
<circle cx="178.1" cy="126.0" r="1.2" fill="#4d7a22"/>
<circle cx="30.8" cy="45.5" r="1.3" fill="#a5cf45"/>
<circle cx="87.1" cy="45.0" r="2.3" fill="#5a8a28"/>
<circle cx="106.7" cy="48.9" r="2.4" fill="#a5cf45"/>
<circle cx="210.2" cy="141.0" r="1.5" fill="#a5cf45"/>
<circle cx="203.6" cy="98.8" r="2.0" fill="#9cc93f"/>
<circle cx="1.7" cy="67.1" r="1.5" fill="#5a8a28"/>
<circle cx="22.6" cy="143.2" r="2.5" fill="#8bbd3a"/>
<circle cx="105.0" cy="110.2" r="2.0" fill="#8bbd3a"/>
<circle cx="175.2" cy="108.4" r="2.1" fill="#8bbd3a"/>
<circle cx="38.9" cy="117.7" r="2.4" fill="#9cc93f"/>
<circle cx="164.9" cy="97.1" r="2.4" fill="#7fb236"/>
<circle cx="27.2" cy="100.3" r="1.5" fill="#9cc93f"/>
<circle cx="184.0" cy="144.5" r="0.9" fill="#9cc93f"/>
<circle cx="145.8" cy="127.8" r="1.0" fill="#5a8a28"/>
<circle cx="208.8" cy="66.6" r="0.9" fill="#8bbd3a"/>
<circle cx="11.2" cy="71.2" r="2.5" fill="#9cc93f"/>
<circle cx="178.3" cy="49.0" r="1.8" fill="#4d7a22"/>
<circle cx="60.5" cy="61.3" r="0.9" fill="#5a8a28"/>
<circle cx="174.7" cy="143.7" r="1.1" fill="#7fb236"/>
<circle cx="185.6" cy="62.4" r="1.8" fill="#5a8a28"/>
<circle cx="117.3" cy="152.1" r="1.5" fill="#3a601b"/>
<circle cx="16.6" cy="47.4" r="2.0" fill="#5a8a28"/>
<circle cx="115.6" cy="114.0" r="1.9" fill="#a5cf45"/>
<circle cx="17.9" cy="50.1" r="1.8" fill="#b3d84c"/>
<circle cx="105.1" cy="119.8" r="1.9" fill="#9cc93f"/>
<circle cx="5.5" cy="137.8" r="2.3" fill="#8bbd3a"/>
<circle cx="48.0" cy="124.0" r="2.2" fill="#4d7a22"/>
<circle cx="226.2" cy="113.2" r="1.0" fill="#a5cf45"/>
<circle cx="81.1" cy="54.6" r="2.1" fill="#5a8a28"/>
<circle cx="20.7" cy="75.0" r="1.4" fill="#b3d84c"/>
<circle cx="34.0" cy="112.5" r="2.6" fill="#9cc93f"/>
<circle cx="1.6" cy="52.5" r="1.1" fill="#9cc93f"/>
<circle cx="119.6" cy="95.5" r="1.6" fill="#9cc93f"/>
<circle cx="210.8" cy="126.8" r="2.3" fill="#3a601b"/>
<circle cx="192.6" cy="125.0" r="1.0" fill="#7fb236"/>
<circle cx="195.5" cy="92.7" r="2.4" fill="#7fb236"/>
<circle cx="142.3" cy="77.2" r="1.3" fill="#7fb236"/>
<circle cx="58.1" cy="78.0" r="1.5" fill="#c2e05a"/>
<circle cx="87.9" cy="62.3" r="1.2" fill="#8bbd3a"/>
<circle cx="175.3" cy="138.6" r="2.6" fill="#c2e05a"/>
<circle cx="63.1" cy="72.2" r="1.6" fill="#3a601b"/>
<circle cx="78.4" cy="105.5" r="1.5" fill="#c2e05a"/>
<circle cx="0.4" cy="131.1" r="1.3" fill="#c2e05a"/>
<circle cx="182.8" cy="104.1" r="1.1" fill="#c2e05a"/>
<circle cx="97.8" cy="82.1" r="1.0" fill="#5a8a28"/>
<circle cx="222.1" cy="62.2" r="1.8" fill="#a5cf45"/>
<circle cx="56.3" cy="147.7" r="2.5" fill="#a5cf45"/>
<circle cx="158.7" cy="153.3" r="1.1" fill="#9cc93f"/>
<circle cx="50.2" cy="129.3" r="2.4" fill="#b3d84c"/>
<circle cx="99.2" cy="57.4" r="2.5" fill="#8bbd3a"/>
<circle cx="141.3" cy="62.8" r="2.5" fill="#b3d84c"/>
<circle cx="173.2" cy="72.1" r="1.3" fill="#3a601b"/>
<circle cx="21.1" cy="141.9" r="2.0" fill="#7fb236"/>
<circle cx="150.9" cy="111.6" r="2.1" fill="#b3d84c"/>
<circle cx="17.9" cy="126.4" r="1.8" fill="#5a8a28"/>
<circle cx="83.1" cy="60.1" r="1.1" fill="#8bbd3a"/>
<circle cx="149.1" cy="101.7" r="2.4" fill="#8bbd3a"/>
<circle cx="40.9" cy="55.3" r="1.4" fill="#4d7a22"/>
<circle cx="160.3" cy="63.6" r="2.6" fill="#5a8a28"/>
<circle cx="198.1" cy="96.1" r="1.4" fill="#9cc93f"/>
<circle cx="7.1" cy="137.7" r="1.3" fill="#9cc93f"/>
<circle cx="184.7" cy="119.8" r="1.4" fill="#3a601b"/>
<circle cx="194.5" cy="52.2" r="1.1" fill="#b3d84c"/>
<circle cx="152.1" cy="64.4" r="1.1" fill="#5a8a28"/>
<circle cx="192.5" cy="50.5" r="1.3" fill="#5a8a28"/>
<circle cx="131.0" cy="69.2" r="1.0" fill="#3a601b"/>
<circle cx="61.7" cy="149.2" r="2.5" fill="#c2e05a"/>
<circle cx="83.6" cy="125.7" r="1.1" fill="#b3d84c"/>
<circle cx="85.2" cy="62.8" r="2.0" fill="#9cc93f"/>
<circle cx="209.1" cy="62.7" r="2.2" fill="#3a601b"/>
<circle cx="51.5" cy="65.9" r="1.3" fill="#4d7a22"/>
<circle cx="196.2" cy="71.2" r="2.4" fill="#b3d84c"/>
<circle cx="200.0" cy="49.7" r="2.0" fill="#c2e05a"/>
<circle cx="54.0" cy="47.3" r="1.6" fill="#5a8a28"/>
<circle cx="25.3" cy="106.7" r="1.7" fill="#4d7a22"/>
<circle cx="27.1" cy="98.2" r="1.2" fill="#9cc93f"/>
<circle cx="97.9" cy="50.9" r="1.2" fill="#b3d84c"/>
<circle cx="83.1" cy="97.0" r="2.5" fill="#a5cf45"/>
<circle cx="13.2" cy="101.6" r="1.7" fill="#9cc93f"/>
<circle cx="129.5" cy="142.3" r="2.5" fill="#4d7a22"/>
<circle cx="25.3" cy="150.6" r="1.8" fill="#9cc93f"/>
<circle cx="120.0" cy="101.7" r="1.4" fill="#5a8a28"/>
<circle cx="19.1" cy="74.0" r="2.5" fill="#8bbd3a"/>
<circle cx="180.6" cy="58.9" r="2.3" fill="#c2e05a"/>
<circle cx="22.5" cy="75.7" r="2.2" fill="#5a8a28"/>
<circle cx="27.5" cy="155.2" r="1.7" fill="#7fb236"/>
<circle cx="117.2" cy="114.9" r="2.3" fill="#3a601b"/>
<circle cx="148.0" cy="121.6" r="1.0" fill="#9cc93f"/>
<circle cx="177.7" cy="119.1" r="1.1" fill="#c2e05a"/>
<circle cx="33.4" cy="134.8" r="2.5" fill="#3a601b"/>
<circle cx="197.2" cy="85.6" r="2.4" fill="#7fb236"/>
<circle cx="160.9" cy="45.8" r="1.7" fill="#5a8a28"/>
<circle cx="103.4" cy="140.1" r="1.4" fill="#7fb236"/>
<circle cx="193.0" cy="78.4" r="1.4" fill="#9cc93f"/>
<circle cx="216.1" cy="89.4" r="2.1" fill="#3a601b"/>
<circle cx="82.8" cy="98.7" r="1.0" fill="#c2e05a"/>
<circle cx="117.7" cy="151.2" r="1.7" fill="#9cc93f"/>
<circle cx="142.9" cy="68.5" r="2.3" fill="#9cc93f"/>
<circle cx="71.3" cy="132.6" r="1.4" fill="#c2e05a"/>
<circle cx="7.3" cy="64.1" r="1.6" fill="#3a601b"/>
<circle cx="130.8" cy="131.0" r="1.3" fill="#3a601b"/>
<circle cx="35.6" cy="135.7" r="1.9" fill="#8bbd3a"/>
<circle cx="129.2" cy="124.4" r="1.1" fill="#9cc93f"/>
<circle cx="129.3" cy="74.9" r="1.6" fill="#7fb236"/>
<circle cx="229.6" cy="59.3" r="1.4" fill="#3a601b"/>
<circle cx="38.6" cy="91.8" r="1.0" fill="#8bbd3a"/>
<circle cx="181.7" cy="72.6" r="1.9" fill="#9cc93f"/>
<circle cx="197.9" cy="152.1" r="1.4" fill="#4d7a22"/>
<circle cx="21.8" cy="93.2" r="2.3" fill="#3a601b"/>
<circle cx="207.9" cy="52.0" r="2.2" fill="#7fb236"/>
<circle cx="200.2" cy="91.5" r="1.8" fill="#b3d84c"/>
<circle cx="185.6" cy="117.8" r="1.8" fill="#5a8a28"/>
<circle cx="102.6" cy="100.5" r="1.8" fill="#c2e05a"/>
<circle cx="206.7" cy="152.7" r="1.2" fill="#5a8a28"/>
<circle cx="136.2" cy="72.6" r="1.5" fill="#b3d84c"/>
<circle cx="148.0" cy="90.6" r="2.5" fill="#b3d84c"/>
<circle cx="155.8" cy="52.3" r="2.2" fill="#8bbd3a"/>
<circle cx="48.8" cy="81.1" r="2.5" fill="#8bbd3a"/>
<circle cx="109.3" cy="120.6" r="2.1" fill="#7fb236"/>
<circle cx="107.1" cy="80.6" r="2.6" fill="#4d7a22"/>
<circle cx="20.5" cy="153.7" r="1.8" fill="#4d7a22"/>
<circle cx="221.2" cy="145.7" r="1.3" fill="#c2e05a"/>
<circle cx="87.4" cy="99.9" r="1.5" fill="#9cc93f"/>
<circle cx="147.2" cy="143.3" r="1.1" fill="#a5cf45"/>
<circle cx="31.3" cy="89.9" r="1.6" fill="#5a8a28"/>
<circle cx="108.0" cy="95.3" r="1.5" fill="#a5cf45"/>
<circle cx="81.8" cy="123.6" r="1.6" fill="#7fb236"/>
<circle cx="186.6" cy="122.3" r="2.0" fill="#7fb236"/>
<circle cx="90.6" cy="57.2" r="2.0" fill="#b3d84c"/>
<circle cx="192.2" cy="116.6" r="2.0" fill="#9cc93f"/>
<circle cx="84.9" cy="140.1" r="2.0" fill="#7fb236"/>
<circle cx="189.0" cy="111.9" r="2.3" fill="#3a601b"/>
<circle cx="45.6" cy="45.7" r="1.8" fill="#a5cf45"/>
<circle cx="62.7" cy="51.9" r="0.9" fill="#7fb236"/>
<circle cx="19.7" cy="72.1" r="1.2" fill="#7fb236"/>
<circle cx="61.0" cy="124.4" r="2.6" fill="#3a601b"/>
<circle cx="5.5" cy="53.3" r="1.1" fill="#9cc93f"/>
<circle cx="34.2" cy="81.9" r="1.8" fill="#c2e05a"/>
<circle cx="67.1" cy="128.5" r="2.4" fill="#c2e05a"/>
<circle cx="12.6" cy="53.5" r="1.2" fill="#5a8a28"/>
<circle cx="14.6" cy="49.9" r="2.6" fill="#7fb236"/>
<circle cx="182.1" cy="126.4" r="1.5" fill="#8bbd3a"/>
<circle cx="32.4" cy="112.4" r="2.6" fill="#3a601b"/>
<circle cx="172.8" cy="138.8" r="1.6" fill="#b3d84c"/>
<circle cx="164.9" cy="69.9" r="2.3" fill="#8bbd3a"/>
<circle cx="21.7" cy="110.2" r="1.2" fill="#8bbd3a"/>
<circle cx="184.9" cy="133.4" r="1.3" fill="#5a8a28"/>
<circle cx="189.7" cy="97.3" r="1.6" fill="#3a601b"/>
<circle cx="44.3" cy="109.8" r="1.1" fill="#8bbd3a"/>
<circle cx="55.4" cy="73.2" r="1.6" fill="#a5cf45"/>
<circle cx="76.3" cy="50.5" r="1.3" fill="#3a601b"/>
<circle cx="50.8" cy="76.9" r="2.0" fill="#8bbd3a"/>
<circle cx="141.4" cy="145.9" r="1.2" fill="#b3d84c"/>
<circle cx="228.9" cy="145.5" r="1.1" fill="#3a601b"/>
<circle cx="52.1" cy="131.2" r="2.3" fill="#b3d84c"/>
<circle cx="91.2" cy="103.1" r="2.0" fill="#2f5016" opacity="0.75"/>
<circle cx="178.2" cy="79.7" r="2.0" fill="#2f5016" opacity="0.75"/>
<circle cx="74.8" cy="70.7" r="1.8" fill="#2f5016" opacity="0.75"/>
<circle cx="144.8" cy="71.7" r="1.6" fill="#2f5016" opacity="0.75"/>
<circle cx="73.7" cy="132.7" r="2.7" fill="#2f5016" opacity="0.75"/>
<circle cx="200.1" cy="121.5" r="2.3" fill="#2f5016" opacity="0.75"/>
<circle cx="71.5" cy="52.5" r="2.6" fill="#2f5016" opacity="0.75"/>
<circle cx="143.5" cy="93.4" r="1.6" fill="#2f5016" opacity="0.75"/>
<circle cx="184.8" cy="102.0" r="2.3" fill="#2f5016" opacity="0.75"/>
<circle cx="196.0" cy="150.0" r="2.2" fill="#2f5016" opacity="0.75"/>
<circle cx="162.2" cy="104.5" r="2.8" fill="#2f5016" opacity="0.75"/>
<circle cx="166.7" cy="79.6" r="1.6" fill="#2f5016" opacity="0.75"/>
<circle cx="176.9" cy="53.9" r="3.1" fill="#2f5016" opacity="0.75"/>
<circle cx="30.6" cy="141.0" r="3.1" fill="#2f5016" opacity="0.75"/>
<circle cx="128.2" cy="51.1" r="2.7" fill="#2f5016" opacity="0.75"/>
<circle cx="8.1" cy="118.3" r="2.9" fill="#2f5016" opacity="0.75"/>
<circle cx="151.9" cy="82.5" r="2.4" fill="#2f5016" opacity="0.75"/>
<circle cx="33.3" cy="122.8" r="2.7" fill="#2f5016" opacity="0.75"/>
<circle cx="169.3" cy="47.6" r="3.0" fill="#2f5016" opacity="0.75"/>
<circle cx="154.2" cy="103.9" r="2.7" fill="#2f5016" opacity="0.75"/>
<circle cx="72.7" cy="136.5" r="2.5" fill="#2f5016" opacity="0.75"/>
<circle cx="93.5" cy="71.1" r="2.2" fill="#2f5016" opacity="0.75"/>
<circle cx="185.6" cy="124.0" r="2.1" fill="#2f5016" opacity="0.75"/>
<circle cx="205.0" cy="95.8" r="2.4" fill="#2f5016" opacity="0.75"/>
<circle cx="21.1" cy="150.6" r="3.1" fill="#2f5016" opacity="0.75"/>
<circle cx="165.6" cy="87.7" r="1.9" fill="#2f5016" opacity="0.75"/>
<circle cx="42.5" cy="135.6" r="2.8" fill="#2f5016" opacity="0.75"/>
<circle cx="90.4" cy="66.8" r="2.8" fill="#2f5016" opacity="0.75"/>
<circle cx="172.3" cy="147.5" r="2.3" fill="#2f5016" opacity="0.75"/>
<circle cx="199.5" cy="102.0" r="2.9" fill="#2f5016" opacity="0.75"/>
<circle cx="6.4" cy="101.9" r="2.9" fill="#2f5016" opacity="0.75"/>
<circle cx="159.9" cy="154.3" r="2.5" fill="#2f5016" opacity="0.75"/>
<circle cx="72.1" cy="126.4" r="2.9" fill="#2f5016" opacity="0.75"/>
<circle cx="157.0" cy="118.5" r="1.6" fill="#2f5016" opacity="0.75"/>
<circle cx="0.0" cy="70.2" r="2.1" fill="#2f5016" opacity="0.75"/>
<circle cx="181.1" cy="72.7" r="1.6" fill="#2f5016" opacity="0.75"/>
<circle cx="8.6" cy="156.7" r="1.9" fill="#2f5016" opacity="0.75"/>
<circle cx="73.1" cy="143.6" r="3.1" fill="#2f5016" opacity="0.75"/>
<circle cx="69.4" cy="113.8" r="2.2" fill="#2f5016" opacity="0.75"/>
<circle cx="65.3" cy="150.5" r="1.5" fill="#2f5016" opacity="0.75"/>
<circle cx="155.4" cy="129.5" r="2.8" fill="#2f5016" opacity="0.75"/>
<circle cx="130.4" cy="147.0" r="2.9" fill="#2f5016" opacity="0.75"/>
<circle cx="148.2" cy="49.9" r="3.0" fill="#2f5016" opacity="0.75"/>
<circle cx="39.4" cy="61.0" r="2.0" fill="#2f5016" opacity="0.75"/>
<circle cx="116.0" cy="80.8" r="2.2" fill="#2f5016" opacity="0.75"/>
<circle cx="70.6" cy="71.1" r="2.7" fill="#2f5016" opacity="0.75"/>
<circle cx="154.3" cy="50.2" r="3.0" fill="#2f5016" opacity="0.75"/>
<circle cx="39.7" cy="80.1" r="2.8" fill="#2f5016" opacity="0.75"/>
<circle cx="197.2" cy="151.9" r="3.0" fill="#2f5016" opacity="0.75"/>
<circle cx="124.8" cy="147.0" r="2.8" fill="#2f5016" opacity="0.75"/>
<circle cx="193.8" cy="154.6" r="3.1" fill="#2f5016" opacity="0.75"/>
<circle cx="108.2" cy="96.2" r="2.8" fill="#2f5016" opacity="0.75"/>
<circle cx="192.6" cy="126.4" r="2.1" fill="#2f5016" opacity="0.75"/>
<circle cx="14.7" cy="57.4" r="3.0" fill="#2f5016" opacity="0.75"/>
<circle cx="207.7" cy="46.9" r="2.1" fill="#2f5016" opacity="0.75"/>
<circle cx="141.5" cy="100.3" r="1.6" fill="#2f5016" opacity="0.75"/>
<circle cx="197.8" cy="116.3" r="2.0" fill="#2f5016" opacity="0.75"/>
<circle cx="109.6" cy="86.7" r="2.6" fill="#2f5016" opacity="0.75"/>
<circle cx="204.0" cy="109.2" r="2.0" fill="#2f5016" opacity="0.75"/>
<circle cx="79.3" cy="138.8" r="2.8" fill="#2f5016" opacity="0.75"/>
<circle cx="81.0" cy="147.3" r="2.5" fill="#2f5016" opacity="0.75"/>
<circle cx="229.5" cy="145.2" r="1.6" fill="#2f5016" opacity="0.75"/>
<circle cx="102.6" cy="45.3" r="3.1" fill="#2f5016" opacity="0.75"/>
<circle cx="52.2" cy="67.6" r="2.4" fill="#2f5016" opacity="0.75"/>
<circle cx="213.3" cy="118.4" r="3.0" fill="#2f5016" opacity="0.75"/>
<circle cx="150.6" cy="108.2" r="2.3" fill="#2f5016" opacity="0.75"/>
<circle cx="130.9" cy="46.7" r="1.7" fill="#2f5016" opacity="0.75"/>
<circle cx="229.7" cy="64.8" r="2.0" fill="#2f5016" opacity="0.75"/>
<circle cx="118.5" cy="128.2" r="1.7" fill="#2f5016" opacity="0.75"/>
<circle cx="182.6" cy="112.2" r="1.6" fill="#2f5016" opacity="0.75"/>
<circle cx="84.3" cy="150.5" r="2.8" fill="#2f5016" opacity="0.75"/>
<circle cx="36.3" cy="116.0" r="1.6" fill="#2f5016" opacity="0.75"/>
<circle cx="95.9" cy="81.0" r="3.2" fill="#2f5016" opacity="0.75"/>
<circle cx="118.6" cy="153.9" r="2.3" fill="#2f5016" opacity="0.75"/>
<circle cx="173.0" cy="45.2" r="3.0" fill="#2f5016" opacity="0.75"/>
<circle cx="139.1" cy="86.7" r="2.9" fill="#2f5016" opacity="0.75"/>
<circle cx="207.0" cy="62.5" r="1.5" fill="#2f5016" opacity="0.75"/>
<circle cx="149.3" cy="143.3" r="1.7" fill="#2f5016" opacity="0.75"/>
<circle cx="130.9" cy="50.0" r="1.6" fill="#2f5016" opacity="0.75"/>
<circle cx="116.1" cy="145.9" r="2.9" fill="#2f5016" opacity="0.75"/>
<circle cx="164.3" cy="124.5" r="1.9" fill="#2f5016" opacity="0.75"/>
<circle cx="106.4" cy="61.5" r="1.9" fill="#2f5016" opacity="0.75"/>
<circle cx="35.2" cy="93.5" r="1.6" fill="#2f5016" opacity="0.75"/>
<circle cx="31.3" cy="121.7" r="2.5" fill="#2f5016" opacity="0.75"/>
<circle cx="53.8" cy="68.5" r="2.6" fill="#2f5016" opacity="0.75"/>
<circle cx="12.5" cy="131.4" r="2.9" fill="#2f5016" opacity="0.75"/>
<circle cx="207.7" cy="62.7" r="2.8" fill="#2f5016" opacity="0.75"/>
<circle cx="123.9" cy="70.2" r="2.9" fill="#2f5016" opacity="0.75"/>
<circle cx="53.4" cy="63.8" r="3.0" fill="#2f5016" opacity="0.75"/>
<circle cx="224.5" cy="125.5" r="1.7" fill="#2f5016" opacity="0.75"/>
<circle cx="106.3" cy="111.1" r="1.9" fill="#2f5016" opacity="0.75"/>
<circle cx="192.3" cy="92.0" r="2.4" fill="#2f5016" opacity="0.75"/>
<circle cx="112.3" cy="44.2" r="3.0" fill="#2f5016" opacity="0.75"/>
<circle cx="199.8" cy="145.4" r="2.5" fill="#2f5016" opacity="0.75"/>
<circle cx="95.5" cy="80.2" r="1.8" fill="#2f5016" opacity="0.75"/>
<circle cx="49.8" cy="105.4" r="2.2" fill="#2f5016" opacity="0.75"/>
<circle cx="166.0" cy="156.6" r="1.9" fill="#2f5016" opacity="0.75"/>
<circle cx="199.9" cy="84.3" r="2.2" fill="#2f5016" opacity="0.75"/>
<circle cx="71.3" cy="115.8" r="2.3" fill="#2f5016" opacity="0.75"/>
<circle cx="32.8" cy="110.6" r="1.7" fill="#2f5016" opacity="0.75"/>
<circle cx="68.1" cy="91.2" r="2.9" fill="#2f5016" opacity="0.75"/>
<circle cx="176.8" cy="110.9" r="2.3" fill="#2f5016" opacity="0.75"/>
<circle cx="63.7" cy="102.6" r="2.3" fill="#2f5016" opacity="0.75"/>
<circle cx="117.1" cy="100.5" r="1.9" fill="#2f5016" opacity="0.75"/>
<circle cx="80.9" cy="87.3" r="1.6" fill="#2f5016" opacity="0.75"/>
<circle cx="23.1" cy="126.9" r="2.1" fill="#2f5016" opacity="0.75"/>
<circle cx="162.1" cy="139.0" r="2.6" fill="#2f5016" opacity="0.75"/>
<circle cx="107.0" cy="138.3" r="2.4" fill="#2f5016" opacity="0.75"/>
<circle cx="9.6" cy="132.6" r="2.3" fill="#2f5016" opacity="0.75"/>
<circle cx="117.0" cy="124.5" r="2.7" fill="#2f5016" opacity="0.75"/>
<circle cx="219.0" cy="114.0" r="1.8" fill="#2f5016" opacity="0.75"/>
<circle cx="150.1" cy="128.4" r="1.5" fill="#2f5016" opacity="0.75"/>
<circle cx="157.9" cy="114.8" r="2.7" fill="#2f5016" opacity="0.75"/>
<circle cx="91.7" cy="80.9" r="2.5" fill="#2f5016" opacity="0.75"/>
<circle cx="50.5" cy="134.5" r="1.8" fill="#2f5016" opacity="0.75"/>
<circle cx="126.9" cy="117.6" r="2.0" fill="#2f5016" opacity="0.75"/>
<circle cx="31.3" cy="146.2" r="3.2" fill="#2f5016" opacity="0.75"/>
<circle cx="141.8" cy="135.1" r="2.2" fill="#2f5016" opacity="0.75"/>
<circle cx="63.2" cy="102.9" r="1.5" fill="#2f5016" opacity="0.75"/>
<circle cx="126.3" cy="133.5" r="2.1" fill="#2f5016" opacity="0.75"/>
<circle cx="215.7" cy="57.1" r="1.0" fill="#c6e264"/>
<circle cx="140.2" cy="107.9" r="1.6" fill="#c6e264"/>
<circle cx="3.9" cy="134.4" r="0.8" fill="#c6e264"/>
<circle cx="186.4" cy="115.0" r="0.7" fill="#c6e264"/>
<circle cx="205.0" cy="76.5" r="1.2" fill="#c6e264"/>
<circle cx="216.0" cy="86.6" r="0.8" fill="#c6e264"/>
<circle cx="48.2" cy="127.2" r="0.8" fill="#c6e264"/>
<circle cx="71.6" cy="68.8" r="1.1" fill="#c6e264"/>
<circle cx="28.1" cy="153.7" r="1.6" fill="#c6e264"/>
<circle cx="24.6" cy="60.3" r="1.3" fill="#c6e264"/>
<circle cx="223.9" cy="131.3" r="0.8" fill="#c6e264"/>
<circle cx="192.6" cy="48.5" r="1.2" fill="#c6e264"/>
<circle cx="168.0" cy="91.7" r="1.3" fill="#c6e264"/>
<circle cx="163.0" cy="64.3" r="0.8" fill="#c6e264"/>
<circle cx="69.4" cy="53.5" r="0.9" fill="#c6e264"/>
<circle cx="9.0" cy="81.0" r="1.4" fill="#c6e264"/>
<circle cx="38.7" cy="96.4" r="0.8" fill="#c6e264"/>
<circle cx="45.4" cy="84.4" r="1.6" fill="#c6e264"/>
<circle cx="45.5" cy="57.7" r="1.6" fill="#c6e264"/>
<circle cx="74.8" cy="90.2" r="1.1" fill="#c6e264"/>
<circle cx="111.1" cy="46.8" r="1.4" fill="#c6e264"/>
<circle cx="207.0" cy="62.7" r="1.6" fill="#c6e264"/>
<circle cx="182.6" cy="114.7" r="1.4" fill="#c6e264"/>
<circle cx="102.5" cy="114.3" r="1.6" fill="#c6e264"/>
<circle cx="180.1" cy="105.8" r="1.6" fill="#c6e264"/>
<circle cx="3.2" cy="93.6" r="0.7" fill="#c6e264"/>
<circle cx="145.7" cy="118.6" r="1.2" fill="#c6e264"/>
<circle cx="33.9" cy="49.4" r="1.5" fill="#c6e264"/>
<circle cx="118.8" cy="100.1" r="1.4" fill="#c6e264"/>
<circle cx="36.0" cy="117.0" r="1.2" fill="#c6e264"/>
<circle cx="212.2" cy="123.3" r="1.6" fill="#c6e264"/>
<circle cx="194.2" cy="84.9" r="1.4" fill="#c6e264"/>
<circle cx="43.5" cy="87.0" r="1.4" fill="#c6e264"/>
<circle cx="76.8" cy="98.2" r="1.3" fill="#c6e264"/>
<circle cx="225.2" cy="62.2" r="1.6" fill="#c6e264"/>
<circle cx="43.9" cy="156.3" r="0.9" fill="#c6e264"/>
<circle cx="152.8" cy="113.5" r="0.7" fill="#c6e264"/>
<circle cx="133.4" cy="80.9" r="1.3" fill="#c6e264"/>
<circle cx="128.8" cy="134.5" r="1.0" fill="#c6e264"/>
<circle cx="131.9" cy="105.7" r="1.7" fill="#c6e264"/>
<circle cx="197.4" cy="155.7" r="1.2" fill="#c6e264"/>
<circle cx="190.6" cy="49.2" r="1.1" fill="#c6e264"/>
<circle cx="19.0" cy="90.8" r="1.0" fill="#c6e264"/>
<circle cx="116.7" cy="123.7" r="0.7" fill="#c6e264"/>
<circle cx="135.5" cy="59.1" r="1.1" fill="#c6e264"/>
<circle cx="201.6" cy="112.5" r="1.1" fill="#c6e264"/>
<circle cx="203.0" cy="135.5" r="0.8" fill="#c6e264"/>
<circle cx="103.2" cy="85.6" r="0.7" fill="#c6e264"/>
<circle cx="191.9" cy="77.8" r="0.8" fill="#c6e264"/>
<circle cx="59.4" cy="132.4" r="0.9" fill="#c6e264"/>
<circle cx="116.8" cy="100.6" r="1.2" fill="#c6e264"/>
<circle cx="176.8" cy="122.3" r="1.3" fill="#c6e264"/>
<circle cx="63.9" cy="116.7" r="1.0" fill="#c6e264"/>
<circle cx="157.2" cy="122.8" r="1.7" fill="#c6e264"/>
<circle cx="10.7" cy="138.5" r="1.5" fill="#c6e264"/>
<circle cx="67.9" cy="112.0" r="1.6" fill="#c6e264"/>
<circle cx="169.5" cy="149.9" r="1.1" fill="#c6e264"/>
<circle cx="195.8" cy="140.9" r="1.0" fill="#c6e264"/>
<circle cx="116.5" cy="94.3" r="0.7" fill="#c6e264"/>
<circle cx="18.8" cy="133.4" r="1.6" fill="#c6e264"/>
<circle cx="49.5" cy="111.9" r="1.6" fill="#c6e264"/>
<circle cx="18.5" cy="76.9" r="1.5" fill="#c6e264"/>
<circle cx="140.0" cy="152.1" r="1.3" fill="#c6e264"/>
<circle cx="174.3" cy="116.9" r="1.5" fill="#c6e264"/>
<circle cx="59.9" cy="62.6" r="1.6" fill="#c6e264"/>
<circle cx="51.3" cy="140.9" r="0.9" fill="#c6e264"/>
<circle cx="59.7" cy="50.9" r="0.9" fill="#c6e264"/>
<circle cx="229.2" cy="78.1" r="1.7" fill="#c6e264"/>
<circle cx="14.5" cy="87.3" r="1.3" fill="#c6e264"/>
<circle cx="222.6" cy="68.0" r="1.1" fill="#c6e264"/>
<circle cx="108.0" cy="79.3" r="0.8" fill="#c6e264"/>
<circle cx="88.2" cy="117.7" r="1.2" fill="#c6e264"/>
<circle cx="121.9" cy="66.1" r="1.0" fill="#c6e264"/>
<circle cx="119.8" cy="57.5" r="1.0" fill="#c6e264"/>
<circle cx="204.6" cy="147.4" r="1.6" fill="#c6e264"/>
<circle cx="108.0" cy="149.5" r="1.3" fill="#c6e264"/>
<circle cx="22.7" cy="100.2" r="1.7" fill="#c6e264"/>
<circle cx="75.6" cy="82.7" r="0.8" fill="#c6e264"/>
<circle cx="87.3" cy="56.7" r="1.7" fill="#c6e264"/>
<circle cx="114.7" cy="75.9" r="1.0" fill="#c6e264"/>
<circle cx="132.9" cy="64.1" r="1.5" fill="#c6e264"/>
<circle cx="73.1" cy="95.8" r="1.7" fill="#c6e264"/>
<circle cx="104.7" cy="85.8" r="1.5" fill="#c6e264"/>
<circle cx="215.8" cy="122.6" r="1.2" fill="#c6e264"/>
<circle cx="213.8" cy="66.4" r="1.7" fill="#c6e264"/>
<circle cx="152.9" cy="63.8" r="0.9" fill="#c6e264"/>
<circle cx="43.8" cy="77.1" r="1.4" fill="#c6e264"/>
<circle cx="163.1" cy="110.3" r="1.1" fill="#c6e264"/>
<circle cx="48.2" cy="52.0" r="1.2" fill="#c6e264"/>
<circle cx="152.4" cy="129.1" r="0.9" fill="#c6e264"/>
<circle cx="25.4" cy="76.4" r="0.8" fill="#c6e264"/>
<circle cx="44.4" cy="109.6" r="1.4" fill="#c6e264"/>
<circle cx="61.3" cy="154.2" r="0.8" fill="#c6e264"/>
<circle cx="64.5" cy="145.2" r="1.4" fill="#c6e264"/>
<circle cx="118.5" cy="83.6" r="1.4" fill="#c6e264"/>
<circle cx="122.5" cy="64.4" r="1.3" fill="#c6e264"/>
<circle cx="227.3" cy="146.4" r="0.9" fill="#c6e264"/>
<circle cx="48.4" cy="57.7" r="1.3" fill="#c6e264"/>
<circle cx="170.1" cy="152.1" r="1.4" fill="#c6e264"/>
<circle cx="88.4" cy="156.2" r="0.7" fill="#c6e264"/>
<circle cx="137.2" cy="122.8" r="1.1" fill="#c6e264"/>
<circle cx="190.8" cy="144.8" r="1.2" fill="#c6e264"/>
<circle cx="98.4" cy="142.4" r="0.7" fill="#c6e264"/>
<circle cx="6.3" cy="50.2" r="1.1" fill="#c6e264"/>
<circle cx="122.2" cy="87.5" r="1.1" fill="#c6e264"/>
<circle cx="84.1" cy="59.1" r="1.6" fill="#c6e264"/>
<circle cx="85.1" cy="105.4" r="0.9" fill="#c6e264"/>
<circle cx="34.9" cy="56.5" r="1.5" fill="#c6e264"/>
<circle cx="28.7" cy="78.9" r="1.3" fill="#c6e264"/>
<circle cx="22.1" cy="100.1" r="1.2" fill="#c6e264"/>
<circle cx="172.5" cy="126.2" r="0.9" fill="#c6e264"/>
<circle cx="32.3" cy="148.6" r="0.7" fill="#c6e264"/>
<circle cx="205.9" cy="84.4" r="1.5" fill="#c6e264"/>
<circle cx="192.0" cy="110.6" r="1.1" fill="#c6e264"/>
<circle cx="109.6" cy="48.7" r="1.7" fill="#c6e264"/>
<circle cx="228.3" cy="49.5" r="1.7" fill="#c6e264"/>
<circle cx="54.9" cy="48.3" r="1.6" fill="#c6e264"/>
<circle cx="45.6" cy="73.4" r="1.5" fill="#c6e264"/>
<circle cx="173.5" cy="82.3" r="0.8" fill="#c6e264"/>
<circle cx="173.5" cy="52.4" r="1.5" fill="#c6e264"/>
<circle cx="102.8" cy="121.5" r="0.9" fill="#c6e264"/>
<circle cx="99.3" cy="149.3" r="0.8" fill="#c6e264"/>
<circle cx="118.1" cy="148.9" r="1.3" fill="#c6e264"/>
<circle cx="114.5" cy="155.9" r="1.4" fill="#c6e264"/>
<circle cx="170.7" cy="136.5" r="1.5" fill="#c6e264"/>
<circle cx="65.5" cy="48.5" r="0.7" fill="#c6e264"/>
<circle cx="119.8" cy="128.5" r="0.9" fill="#c6e264"/>
<circle cx="93.0" cy="69.9" r="0.9" fill="#c6e264"/>
<circle cx="59.6" cy="95.3" r="0.9" fill="#c6e264"/>
<circle cx="107.4" cy="123.3" r="1.4" fill="#c6e264"/>
<circle cx="23.2" cy="90.1" r="1.2" fill="#c6e264"/>
<circle cx="66.2" cy="85.2" r="0.9" fill="#c6e264"/>
<circle cx="152.1" cy="81.3" r="0.7" fill="#c6e264"/>
<circle cx="95.8" cy="139.4" r="0.8" fill="#c6e264"/>
<circle cx="19.5" cy="50.4" r="0.9" fill="#c6e264"/>
<circle cx="60.5" cy="115.0" r="1.1" fill="#c6e264"/>
<circle cx="156.5" cy="72.6" r="0.8" fill="#c6e264"/>
<circle cx="212.7" cy="107.6" r="1.1" fill="#c6e264"/>
<circle cx="14.6" cy="110.6" r="1.6" fill="#c6e264"/>
<circle cx="29.2" cy="51.6" r="1.1" fill="#c6e264"/>
<circle cx="151.8" cy="46.8" r="0.9" fill="#c6e264"/>
<circle cx="226.6" cy="125.3" r="1.5" fill="#c6e264"/>
<circle cx="181.8" cy="52.5" r="1.5" fill="#c6e264"/>
<circle cx="55.2" cy="69.0" r="1.6" fill="#c6e264"/>
<circle cx="61.7" cy="63.3" r="1.5" fill="#c6e264"/>
<circle cx="93.5" cy="137.5" r="0.9" fill="#c6e264"/>
<circle cx="100.7" cy="64.3" r="0.8" fill="#c6e264"/>
<circle cx="125.1" cy="92.7" r="0.9" fill="#c6e264"/>
<circle cx="208.7" cy="118.5" r="1.0" fill="#c6e264"/>
<circle cx="26.9" cy="135.3" r="0.8" fill="#c6e264"/>
<circle cx="50.8" cy="61.3" r="1.6" fill="#c6e264"/>
<circle cx="19.4" cy="78.6" r="1.3" fill="#c6e264"/>
<circle cx="194.7" cy="128.6" r="1.3" fill="#c6e264"/>
<circle cx="214.9" cy="93.9" r="1.7" fill="#c6e264"/>
<circle cx="180.6" cy="138.8" r="1.2" fill="#c6e264"/>
<circle cx="71.6" cy="67.1" r="1.4" fill="#c6e264"/>
<circle cx="29.1" cy="84.1" r="1.3" fill="#c6e264"/>
<circle cx="227.7" cy="114.0" r="1.4" fill="#c6e264"/>
<circle cx="29.6" cy="46.5" r="1.1" fill="#c6e264"/>
<circle cx="137.5" cy="48.9" r="1.0" fill="#c6e264"/>
<circle cx="27.3" cy="115.0" r="1.1" fill="#c6e264"/>
<circle cx="86.2" cy="97.8" r="1.4" fill="#c6e264"/>
<circle cx="200.5" cy="105.3" r="1.2" fill="#c6e264"/>
<circle cx="67.4" cy="137.8" r="0.7" fill="#c6e264"/>
<circle cx="59.1" cy="80.2" r="1.4" fill="#c6e264"/>
<circle cx="167.7" cy="141.4" r="1.4" fill="#c6e264"/>
<circle cx="104.7" cy="53.7" r="1.1" fill="#c6e264"/>
<circle cx="150.5" cy="137.3" r="1.7" fill="#c6e264"/>
<circle cx="99.4" cy="127.1" r="1.0" fill="#c6e264"/>
<circle cx="84.3" cy="45.9" r="1.2" fill="#c6e264"/>
<circle cx="78.6" cy="90.3" r="1.1" fill="#c6e264"/>
<circle cx="139.9" cy="144.6" r="1.6" fill="#c6e264"/>
<circle cx="70.3" cy="133.9" r="1.0" fill="#c6e264"/>
<circle cx="108.6" cy="125.3" r="1.4" fill="#c6e264"/>
<circle cx="42.8" cy="55.5" r="0.9" fill="#c6e264"/>
<circle cx="206.2" cy="48.9" r="0.8" fill="#c6e264"/>
<circle cx="77.9" cy="91.5" r="1.7" fill="#c6e264"/>
<circle cx="66.4" cy="61.6" r="0.9" fill="#c6e264"/>
<circle cx="147.5" cy="124.5" r="1.1" fill="#c6e264"/>
<circle cx="14.0" cy="120.2" r="0.9" fill="#c6e264"/>
<circle cx="8.4" cy="63.6" r="0.8" fill="#c6e264"/>
<circle cx="97.5" cy="61.2" r="1.5" fill="#c6e264"/>
<circle cx="117.1" cy="56.6" r="1.0" fill="#c6e264"/>
<circle cx="117.4" cy="156.5" r="1.7" fill="#c6e264"/>
<circle cx="227.0" cy="88.3" r="0.9" fill="#c6e264"/>
<circle cx="179.9" cy="127.1" r="0.8" fill="#c6e264"/>
<circle cx="73.8" cy="58.3" r="0.7" fill="#c6e264"/>
<circle cx="164.8" cy="67.4" r="1.3" fill="#c6e264"/>
<circle cx="131.7" cy="70.2" r="0.8" fill="#c6e264"/>
<circle cx="162.9" cy="139.9" r="0.9" fill="#c6e264"/>
<circle cx="108.4" cy="131.3" r="1.6" fill="#c6e264"/>
<circle cx="27.9" cy="108.6" r="1.2" fill="#c6e264"/>
<circle cx="195.6" cy="54.2" r="1.2" fill="#c6e264"/>
<circle cx="54.6" cy="93.8" r="1.7" fill="#c6e264"/>
<circle cx="210.5" cy="45.7" r="0.9" fill="#c6e264"/>
<circle cx="76.3" cy="89.1" r="1.4" fill="#c6e264"/>
<circle cx="97.1" cy="81.7" r="0.9" fill="#c6e264"/>
<circle cx="145.7" cy="102.7" r="1.3" fill="#c6e264"/>
<circle cx="69.9" cy="97.0" r="1.4" fill="#c6e264"/>
<circle cx="107.6" cy="45.5" r="1.4" fill="#c6e264"/>
<circle cx="106.2" cy="111.7" r="0.9" fill="#c6e264"/>
<circle cx="137.8" cy="97.1" r="1.7" fill="#c6e264"/>
<circle cx="36.8" cy="152.0" r="1.7" fill="#c6e264"/>
<circle cx="174.5" cy="128.5" r="1.6" fill="#c6e264"/>
<circle cx="201.9" cy="79.1" r="1.6" fill="#c6e264"/>
<circle cx="159.4" cy="51.6" r="1.6" fill="#c6e264"/>
<circle cx="42.3" cy="44.5" r="1.1" fill="#c6e264"/>
<circle cx="104.8" cy="147.9" r="1.0" fill="#c6e264"/>
<circle cx="84.7" cy="124.6" r="0.8" fill="#c6e264"/>
<circle cx="121.4" cy="56.9" r="1.0" fill="#c6e264"/>
<circle cx="124.4" cy="68.9" r="1.1" fill="#c6e264"/>
<circle cx="195.0" cy="112.0" r="1.3" fill="#c6e264"/>
<circle cx="63.0" cy="130.0" r="1.3" fill="#c6e264"/>
<circle cx="164.8" cy="139.3" r="1.1" fill="#c6e264"/>
<circle cx="226.4" cy="116.5" r="0.8" fill="#c6e264"/>
<circle cx="155.0" cy="56.9" r="0.9" fill="#c6e264"/>
<circle cx="5.2" cy="145.5" r="0.9" fill="#c6e264"/>
<circle cx="0.8" cy="156.8" r="0.9" fill="#c6e264"/>
<circle cx="122.3" cy="84.8" r="1.0" fill="#c6e264"/>
<circle cx="39.6" cy="123.6" r="0.9" fill="#c6e264"/>
</g>
<circle cx="226.1" cy="135.9" r="0.8" fill="#4f7d24"/>
<circle cx="213.7" cy="137.5" r="1.1" fill="#4f7d24"/>
<circle cx="214.2" cy="118.9" r="1.2" fill="#4f7d24"/>
<circle cx="223.4" cy="129.9" r="0.9" fill="#4f7d24"/>
<circle cx="209.0" cy="122.1" r="1.4" fill="#4f7d24"/>
<circle cx="216.5" cy="133.4" r="1.4" fill="#4f7d24"/>
<circle cx="220.1" cy="137.1" r="1.0" fill="#4f7d24"/>
<circle cx="217.3" cy="133.8" r="1.4" fill="#4f7d24"/>
<circle cx="207.6" cy="124.0" r="1.0" fill="#4f7d24"/>
<circle cx="209.6" cy="139.4" r="1.4" fill="#4f7d24"/>
<circle cx="226.6" cy="136.3" r="1.3" fill="#4f7d24"/>
<circle cx="222.1" cy="125.0" r="0.9" fill="#4f7d24"/>
<circle cx="224.6" cy="128.9" r="1.2" fill="#4f7d24"/>
<circle cx="208.8" cy="119.3" r="1.5" fill="#4f7d24"/>
</g></g>
<clipPath id="c00"><rect x="0.0" y="0.0" width="77" height="77"/></clipPath>
<clipPath id="c01"><rect x="0.0" y="79.3" width="77" height="77"/></clipPath>
<clipPath id="c10"><rect x="79.9" y="0.0" width="77" height="77"/></clipPath>
<clipPath id="c11"><rect x="79.9" y="79.3" width="77" height="77"/></clipPath>
<clipPath id="c20"><rect x="159.8" y="0.0" width="77" height="77"/></clipPath>
<clipPath id="c21"><rect x="159.8" y="79.3" width="77" height="77"/></clipPath>
<clipPath id="ct"><rect x="0" y="0" width="77" height="77"/></clipPath>
</defs>
<g transform="translate(61.3,75.5)"><rect x="0" y="0" width="39" height="39" fill="#3171c4"/><g transform="translate(5.70,8.50)"><rect x="-5.70" y="-8.50" width="39" height="39" fill="url(#hp)"/></g><rect x="0.9" y="0.9" width="37.20" height="37.20" fill="none" stroke="#000" stroke-width="1.9"/></g>
<g transform="translate(113.3,75.5)"><rect x="0" y="0" width="20.3" height="39" fill="#3171c4"/><g transform="translate(10.15,18.00)"><rect x="-10.15" y="-18.00" width="20.3" height="39" fill="url(#hp)"/></g><rect x="0.9" y="0.9" width="18.50" height="37.20" fill="none" stroke="#000" stroke-width="1.9"/></g>
<rect x="61.8" y="131.3" width="37.8" height="37.5" rx="2" fill="#3171c4"/>
<rect x="114" y="131.3" width="19" height="37.5" rx="1" fill="#3171c4"/>
<rect x="114" y="188.2" width="19" height="37.5" fill="#3b8763"/>
<text x="80.7" y="154.8" font-size="15" fill="#b9d0f2" text-anchor="middle">k</text>
<text x="123.5" y="154.8" font-size="15" fill="#b9d0f2" text-anchor="middle">k</text>
<text x="123.5" y="211.7" font-size="15" fill="#a9d3bb" text-anchor="middle">k</text>
<text x="145.2" y="91.2" font-size="14.5" fill="#444b56" font-style="italic" text-anchor="start" textLength="291.0" lengthAdjust="spacingAndGlyphs">Thumbnail visual features before and after</text>
<text x="145.2" y="110.3" font-size="14.5" fill="#444b56" font-style="italic" text-anchor="start" textLength="162.8" lengthAdjust="spacingAndGlyphs">downsampling and MLP</text>
<g transform="translate(146.5,147.5) scale(1.075,1)"><text x="0" y="0" font-size="14.5" fill="#444b56" font-style="italic">Tile visual features of the k<tspan font-size="10" dy="-6">th</tspan><tspan dy="6"> tile before and</tspan></text></g>
<text x="145.2" y="165.4" font-size="14.5" fill="#444b56" font-style="italic" text-anchor="start" textLength="200.2" lengthAdjust="spacingAndGlyphs">after downsampling and MLP</text>
<g transform="translate(146.5,204.4) scale(1.088,1)"><text x="0" y="0" font-size="14.5" fill="#444b56" font-style="italic">Tile tag text embeddings of the k<tspan font-size="10" dy="-6">th</tspan><tspan dy="6"> tag (&lt;tile_k&gt;)</tspan></text></g>
<text x="145.2" y="221.5" font-size="14.5" fill="#444b56" font-style="italic" text-anchor="start" textLength="171.4" lengthAdjust="spacingAndGlyphs">for image tile localization</text>
<text x="148.3" y="275.6" font-size="19.6" fill="#444b56" font-style="italic" text-anchor="start" textLength="127.0" lengthAdjust="spacingAndGlyphs">Image output</text>
<polygon points="139.5,344.5 196,288 253.5,288 253.5,344.5 198,401.5 139.5,401.5" fill="none" stroke="#333" stroke-width="2" stroke-dasharray="5.5 5.5"/>
<rect x="205.50" y="297.90" width="37.5" height="37" rx="2.5" fill="#3171c4"/>
<rect x="196.06" y="307.34" width="37.5" height="37" rx="2.5" fill="#3171c4"/>
<rect x="186.62" y="316.78" width="37.5" height="37" rx="2.5" fill="#3171c4"/>
<rect x="177.18" y="326.22" width="37.5" height="37" rx="2.5" fill="#3171c4"/>
<rect x="167.74" y="335.66" width="37.5" height="37" rx="2.5" fill="#3171c4"/>
<rect x="158.30" y="345.10" width="37.5" height="37" rx="2.5" fill="#3171c4"/>
<text x="189.30" y="355.10" font-size="10" fill="#a9c3ea" text-anchor="middle">1</text>
<text x="198.74" y="345.66" font-size="10" fill="#a9c3ea" text-anchor="middle">2</text>
<text x="208.18" y="336.22" font-size="10" fill="#a9c3ea" text-anchor="middle">3</text>
<text x="217.62" y="326.78" font-size="10" fill="#a9c3ea" text-anchor="middle">4</text>
<text x="227.06" y="317.34" font-size="10" fill="#a9c3ea" text-anchor="middle">5</text>
<text x="236.50" y="307.90" font-size="10" fill="#a9c3ea" text-anchor="middle">6</text>
<g transform="translate(147.5,353.2)"><rect x="0" y="0" width="39.2" height="39.1" fill="#3171c4"/><g transform="translate(5.70,8.50)"><rect x="-5.70" y="-8.50" width="39.2" height="39.1" fill="url(#hp)"/></g><rect x="0.9" y="0.9" width="37.40" height="37.30" fill="none" stroke="#000" stroke-width="1.9"/></g>
<path d="M276.4,360.8 L518,360.8 Q536.2,360.8 536.2,379 L536.2,435" fill="none" stroke="#8a8a8a" stroke-width="1.6"/>
<polyline points="529.4000000000001,421.3 536.2,435.3 543.0,421.3" fill="none" stroke="#8a8a8a" stroke-width="1.6"/>
<line x1="214.9" y1="436.7" x2="214.9" y2="401" stroke="#8a8a8a" stroke-width="1.6"/>
<polyline points="208.1,414.3 214.9,400.3 221.70000000000002,414.3" fill="none" stroke="#8a8a8a" stroke-width="1.6"/>
<rect x="99.7" y="443.3" width="227.6" height="94.3" rx="5" fill="#3171c4"/>
<text x="119.4" y="497" font-size="22.5" fill="#f4f7ff" text-anchor="start" textLength="185.2" lengthAdjust="spacingAndGlyphs">IMAGE ENCODER</text>
<g transform="translate(116,520.1)" stroke="#cfe3ff" stroke-width="1.1" fill="none" stroke-linecap="round"><line x1="-5.5" y1="-9.5" x2="5.5" y2="9.5"/><line x1="5.5" y1="-9.5" x2="-5.5" y2="9.5"/><polyline points="-4.6,-5.2 -3.2,-5.6 -2.4,-6.8"/><polyline points="4.6,-5.2 3.2,-5.6 2.4,-6.8"/><polyline points="-4.6,5.2 -3.2,5.6 -2.4,6.8"/><polyline points="4.6,5.2 3.2,5.6 2.4,6.8"/><polyline points="-10.5,-1.6 -9.2,0 -10.5,1.6"/><polyline points="-4.8,-1.6 -6.1,0 -4.8,1.6"/><polyline points="10.5,-1.6 9.2,0 10.5,1.6"/><polyline points="4.8,-1.6 6.1,0 4.8,1.6"/><line x1="-8" y1="0" x2="-7" y2="0"/><line x1="8" y1="0" x2="7" y2="0"/><circle cx="0" cy="0" r="2.1" fill="#fff" stroke="none"/></g>
<line x1="214.9" y1="604" x2="214.9" y2="549.3" stroke="#8a8a8a" stroke-width="1.6"/>
<polyline points="208.1,562.6 214.9,548.6 221.70000000000002,562.6" fill="none" stroke="#8a8a8a" stroke-width="1.6"/>
<g transform="translate(174.20,612.30)"><g clip-path="url(#ct)"><use href="#photo" x="-159.8" y="-79.3"/></g><rect x="0.8" y="0.8" width="75.4" height="75.4" fill="none" stroke="#1f3348" stroke-width="1.7" stroke-dasharray="5.5 5.5"/></g>
<g transform="translate(164.70,621.80)"><g clip-path="url(#ct)"><use href="#photo" x="-79.9" y="-79.3"/></g><rect x="0.8" y="0.8" width="75.4" height="75.4" fill="none" stroke="#1f3348" stroke-width="1.7" stroke-dasharray="5.5 5.5"/></g>
<g transform="translate(155.20,631.30)"><g clip-path="url(#ct)"><use href="#photo" x="-0.0" y="-79.3"/></g><rect x="0.8" y="0.8" width="75.4" height="75.4" fill="none" stroke="#1f3348" stroke-width="1.7" stroke-dasharray="5.5 5.5"/></g>
<g transform="translate(145.70,640.80)"><g clip-path="url(#ct)"><use href="#photo" x="-159.8" y="-0.0"/></g><rect x="0.8" y="0.8" width="75.4" height="75.4" fill="none" stroke="#1f3348" stroke-width="1.7" stroke-dasharray="5.5 5.5"/></g>
<g transform="translate(136.20,650.30)"><g clip-path="url(#ct)"><use href="#photo" x="-79.9" y="-0.0"/></g><rect x="0.8" y="0.8" width="75.4" height="75.4" fill="none" stroke="#1f3348" stroke-width="1.7" stroke-dasharray="5.5 5.5"/></g>
<g transform="translate(126.70,659.80)"><g clip-path="url(#ct)"><use href="#photo" x="-0.0" y="-0.0"/></g><rect x="0.8" y="0.8" width="75.4" height="75.4" fill="none" stroke="#1f3348" stroke-width="1.7" stroke-dasharray="5.5 5.5"/></g>
<g transform="translate(117.2,669.3)"><g clip-path="url(#ct)"><use href="#photo" transform="scale(0.3249,0.4904)"/></g><rect x="0.8" y="0.8" width="75.4" height="75.4" fill="none" stroke="#1f3348" stroke-width="1.7" stroke-dasharray="5.5 5.5"/></g>
<g transform="translate(120.5,653.5) rotate(-42)"><path d="M0.5,6.5 Q0,-1 7,-1 L26,-1 Q33,-1 33.5,-9.5 Q34,-1 41,-1 L61,-1 Q68,-1 68,3.5" fill="none" stroke="#8a8a8a" stroke-width="1.6"/></g>
<text x="0" y="0" font-size="18.5" fill="#444b56" font-style="italic" text-anchor="middle" transform="translate(131,619) rotate(-42)">Tiles</text>
<path d="M114.6,719.8 C104,721 96,728 95.8,740 L95.8,754.5" fill="none" stroke="#8a8a8a" stroke-width="1.6"/>
<polyline points="89.8,743.3 95.8,755.3 101.8,743.3" fill="none" stroke="#8a8a8a" stroke-width="1.6"/>
<text x="49.7" y="774.8" font-size="19" fill="#444b56" font-style="italic" text-anchor="start" textLength="89.0" lengthAdjust="spacingAndGlyphs">Thumbnail</text>
<line x1="214.9" y1="821.3" x2="214.9" y2="748.7" stroke="#8a8a8a" stroke-width="1.6"/>
<polyline points="208.1,762 214.9,748 221.70000000000002,762" fill="none" stroke="#8a8a8a" stroke-width="1.6"/>
<text x="235.4" y="779" font-size="19.5" fill="#444b56" font-style="italic" text-anchor="start" textLength="133.9" lengthAdjust="spacingAndGlyphs">Dynamic tiling</text>
<text x="243.6" y="805.7" font-size="19.5" fill="#444b56" font-style="italic" text-anchor="start" textLength="121.3" lengthAdjust="spacingAndGlyphs">&amp; re-arrange</text>
<g transform="translate(96.3,829.7)">
<use href="#photo"/>
<line x1="78.4" y1="0" x2="78.4" y2="157" stroke="#fff" stroke-width="2.6"/>
<line x1="158.3" y1="0" x2="158.3" y2="157" stroke="#fff" stroke-width="2.6"/>
<line x1="0" y1="78.1" x2="237" y2="78.1" stroke="#fff" stroke-width="2.6"/>
<rect x="0.80" y="0.80" width="75.6" height="75.6" fill="none" stroke="#1f3348" stroke-width="1.8" stroke-dasharray="5.6 5.8"/>
<rect x="0.80" y="80.10" width="75.6" height="75.6" fill="none" stroke="#1f3348" stroke-width="1.8" stroke-dasharray="5.6 5.8"/>
<rect x="80.45" y="0.80" width="75.6" height="75.6" fill="none" stroke="#1f3348" stroke-width="1.8" stroke-dasharray="5.6 5.8"/>
<rect x="80.45" y="80.10" width="75.6" height="75.6" fill="none" stroke="#1f3348" stroke-width="1.8" stroke-dasharray="5.6 5.8"/>
<rect x="160.10" y="0.80" width="75.6" height="75.6" fill="none" stroke="#1f3348" stroke-width="1.8" stroke-dasharray="5.6 5.8"/>
<rect x="160.10" y="80.10" width="75.6" height="75.6" fill="none" stroke="#1f3348" stroke-width="1.8" stroke-dasharray="5.6 5.8"/>
</g>
<rect x="422.2" y="443.1" width="227.6" height="56.9" rx="4" fill="#f1c244"/>
<text x="455.5" y="478.4" font-size="23.4" fill="#fdf5dc" text-anchor="start" textLength="157.8" lengthAdjust="spacingAndGlyphs">Downsampling</text>
<line x1="535.8" y1="506.7" x2="535.8" y2="542.8" stroke="#8a8a8a" stroke-width="1.6"/>
<polyline points="529.0,529.4 535.8,543.4 542.5999999999999,529.4" fill="none" stroke="#8a8a8a" stroke-width="1.6"/>
<rect x="422.2" y="551.5" width="227.6" height="56.5" rx="4" fill="#84b638"/>
<text x="510.0" y="586.4" font-size="23.4" fill="#f4fbe6" text-anchor="start" textLength="49.4" lengthAdjust="spacingAndGlyphs">MLP</text>
<line x1="535.8" y1="619.1" x2="535.8" y2="669" stroke="#8a8a8a" stroke-width="1.6"/>
<polyline points="529.0,655.5 535.8,669.5 542.5999999999999,655.5" fill="none" stroke="#8a8a8a" stroke-width="1.6"/>
<text x="412.8" y="652.8" font-size="20" fill="#444b56" font-style="italic" text-anchor="start" textLength="106.9" lengthAdjust="spacingAndGlyphs">Re-arrange</text>
<rect x="422.6" y="682.6" width="228.6" height="56.9" rx="8" fill="none" stroke="#333" stroke-width="2" stroke-dasharray="5.5 5.5"/>
<g transform="translate(440.4,692.1)"><rect x="0" y="0" width="20.6" height="38.4" fill="#3171c4"/><g transform="translate(10.30,17.70)"><rect x="-10.30" y="-17.70" width="20.6" height="38.4" fill="url(#hp)"/></g><rect x="0.9" y="0.9" width="18.80" height="36.60" fill="none" stroke="#000" stroke-width="1.9"/></g>
<rect x="469.2" y="692.7" width="18.6" height="36.8" fill="#3171c4"/><text x="478.50" y="717.30" font-size="16" fill="#b9d0f2" text-anchor="middle">1</text>
<rect x="497.66" y="692.7" width="18.6" height="36.8" fill="#3171c4"/><text x="506.96" y="717.30" font-size="16" fill="#b9d0f2" text-anchor="middle">2</text>
<rect x="526.12" y="692.7" width="18.6" height="36.8" fill="#3171c4"/><text x="535.42" y="717.30" font-size="16" fill="#b9d0f2" text-anchor="middle">3</text>
<rect x="554.58" y="692.7" width="18.6" height="36.8" fill="#3171c4"/><text x="563.88" y="717.30" font-size="16" fill="#b9d0f2" text-anchor="middle">4</text>
<rect x="583.04" y="692.7" width="18.6" height="36.8" fill="#3171c4"/><text x="592.34" y="717.30" font-size="16" fill="#b9d0f2" text-anchor="middle">5</text>
<rect x="611.5" y="692.7" width="18.6" height="36.8" fill="#3171c4"/><text x="620.80" y="717.30" font-size="16" fill="#b9d0f2" text-anchor="middle">6</text>
<text x="463.3" y="767.4" font-size="19.3" fill="#444b56" font-style="italic" text-anchor="start" textLength="142.2" lengthAdjust="spacingAndGlyphs">Image features</text>
<path d="M535.9,778.5 L535.9,940.7 Q535.9,956.2 551.4,956.2 L748.5,956.2" fill="none" stroke="#8a8a8a" stroke-width="1.6"/>
<polyline points="735.3,949.4000000000001 749.3,956.2 735.3,963.0" fill="none" stroke="#8a8a8a" stroke-width="1.6"/>
<path d="M674,956.2 Q689.6,956.2 689.6,940.7 L689.6,246 Q689.6,228 707.6,228 L748.5,228" fill="none" stroke="#8a8a8a" stroke-width="1.6"/>
<polyline points="735.4,221.2 749.4,228 735.4,234.8" fill="none" stroke="#8a8a8a" stroke-width="1.6"/>
<path d="M689.6,576.6 Q689.6,558.6 707.6,558.6 L748.5,558.6" fill="none" stroke="#8a8a8a" stroke-width="1.6"/>
<polyline points="735.2,551.8000000000001 749.2,558.6 735.2,565.4" fill="none" stroke="#8a8a8a" stroke-width="1.6"/>
<rect x="769.5" y="68.4" width="531.5" height="314.9" rx="13" fill="none" stroke="#468469" stroke-width="2"/>
<text x="907.1" y="94.2" font-size="19.2" fill="#3f8a68" text-anchor="start" textLength="253.2" lengthAdjust="spacingAndGlyphs">LANGUAGE MODEL (CROSS)</text>
<text x="954.7" y="126.7" font-size="16.9" fill="#55595f" font-style="italic" text-anchor="start" textLength="144.5" lengthAdjust="spacingAndGlyphs">Transformer layers</text>
<rect x="794" y="135" width="482.3" height="189.8" rx="15" fill="none" stroke="#333" stroke-width="2" stroke-dasharray="5.5 6"/>
<rect x="807.8" y="144.8" width="455.2" height="170.1" rx="10" fill="#323e49"/>
<rect x="807.8" y="198.5" width="455.2" height="5.6" fill="#fff"/>
<rect x="807.8" y="255.3" width="455.2" height="5.7" fill="#fff"/>
<text x="912.5" y="179.8" font-size="23.2" fill="#f4f6f8" text-anchor="start" textLength="244.7" lengthAdjust="spacingAndGlyphs">Feed-Forward Network</text>
<g transform="translate(937.8,211.2)"><rect x="0" y="0" width="20.4" height="39.2" fill="#3171c4"/><g transform="translate(10.20,18.10)"><rect x="-10.20" y="-18.10" width="20.4" height="39.2" fill="url(#hp)"/></g><rect x="0.9" y="0.9" width="18.60" height="37.40" fill="none" stroke="#000" stroke-width="1.9"/></g>
<rect x="965.9" y="211.8" width="19" height="37.8" fill="#3171c4"/><text x="975.40" y="236.90" font-size="16" fill="#b9d0f2" text-anchor="middle">1</text>
<rect x="994.3" y="211.8" width="19" height="37.8" fill="#3171c4"/><text x="1003.80" y="236.90" font-size="16" fill="#b9d0f2" text-anchor="middle">2</text>
<rect x="1022.7" y="211.8" width="19" height="37.8" fill="#3171c4"/><text x="1032.20" y="236.90" font-size="16" fill="#b9d0f2" text-anchor="middle">3</text>
<rect x="1051.1" y="211.8" width="19" height="37.8" fill="#3171c4"/><text x="1060.60" y="236.90" font-size="16" fill="#b9d0f2" text-anchor="middle">4</text>
<rect x="1079.5" y="211.8" width="19" height="37.8" fill="#3171c4"/><text x="1089.00" y="236.90" font-size="16" fill="#b9d0f2" text-anchor="middle">5</text>
<rect x="1107.9" y="211.8" width="19" height="37.8" fill="#3171c4"/><text x="1117.40" y="236.90" font-size="16" fill="#b9d0f2" text-anchor="middle">6</text>
<text x="1176.3" y="224.9" font-size="18.9" fill="#f4f6f8" text-anchor="start" textLength="55.6" lengthAdjust="spacingAndGlyphs">Gated</text>
<text x="1151.6" y="247.6" font-size="18.9" fill="#f4f6f8" text-anchor="start" textLength="105.3" lengthAdjust="spacingAndGlyphs">X-Attention</text>
<text x="956.2" y="293.6" font-size="23.2" fill="#f4f6f8" text-anchor="start" textLength="152.7" lengthAdjust="spacingAndGlyphs">Self-Attention</text>
<rect x="893.2" y="336.2" width="18.6" height="37.4" fill="#3b8763"/><text x="902.50" y="361.10" font-size="16" fill="#a9d3bb" text-anchor="middle">1</text>
<rect x="921.56" y="336.2" width="18.6" height="37.4" fill="#3b8763"/><text x="930.86" y="361.10" font-size="16" fill="#a9d3bb" text-anchor="middle">2</text>
<rect x="949.92" y="336.2" width="18.6" height="37.4" fill="#3b8763"/><text x="959.22" y="361.10" font-size="16" fill="#a9d3bb" text-anchor="middle">3</text>
<rect x="978.28" y="336.2" width="18.6" height="37.4" fill="#3b8763"/><text x="987.58" y="361.10" font-size="16" fill="#a9d3bb" text-anchor="middle">4</text>
<rect x="1006.64" y="336.2" width="18.6" height="37.4" fill="#3b8763"/><text x="1015.94" y="361.10" font-size="16" fill="#a9d3bb" text-anchor="middle">5</text>
<rect x="1035.0" y="336.2" width="18.6" height="37.4" fill="#3b8763"/><text x="1044.30" y="361.10" font-size="16" fill="#a9d3bb" text-anchor="middle">6</text>
<text x="1062.4" y="361.5" font-size="17" fill="#111" text-anchor="middle">+</text>
<rect x="1073.3" y="336.2" width="113.6" height="37.4" fill="#3b8763"/>
<text x="1080.8" y="360.2" font-size="17.4" fill="#eef6f1" text-anchor="start" textLength="96.1" lengthAdjust="spacingAndGlyphs">Text Tokens</text>
<rect x="769.5" y="398.7" width="531.5" height="313.7" rx="13" fill="none" stroke="#468469" stroke-width="2"/>
<text x="903.8" y="423.2" font-size="19.2" fill="#3f8a68" text-anchor="start" textLength="259.8" lengthAdjust="spacingAndGlyphs">LANGUAGE MODEL (HYBRID)</text>
<text x="954.2" y="456" font-size="16.9" fill="#55595f" font-style="italic" text-anchor="start" textLength="144.9" lengthAdjust="spacingAndGlyphs">Transformer layers</text>
<rect x="794" y="464.3" width="482.3" height="189.2" rx="15" fill="none" stroke="#333" stroke-width="2" stroke-dasharray="5.5 6"/>
<rect x="807.8" y="474" width="455.2" height="169.8" rx="10" fill="#323e49"/>
<rect x="807.8" y="527.8" width="455.2" height="5.5" fill="#fff"/>
<rect x="807.8" y="584.6" width="455.2" height="5.4" fill="#fff"/>
<text x="911.3" y="509.1" font-size="23.2" fill="#f4f6f8" text-anchor="start" textLength="245.9" lengthAdjust="spacingAndGlyphs">Feed-Forward Network</text>
<rect x="816.1" y="539" width="19" height="37.7" fill="#3b8763"/><text x="825.60" y="564.05" font-size="16" fill="#a9d3bb" text-anchor="middle">1</text>
<rect x="844.8" y="539" width="19" height="37.7" fill="#3171c4"/><text x="854.30" y="564.05" font-size="16" fill="#b9d0f2" text-anchor="middle">1</text>
<rect x="873.1" y="539" width="19" height="37.7" fill="#3b8763"/><text x="882.60" y="564.05" font-size="16" fill="#a9d3bb" text-anchor="middle">2</text>
<rect x="901.8" y="539" width="19" height="37.7" fill="#3171c4"/><text x="911.30" y="564.05" font-size="16" fill="#b9d0f2" text-anchor="middle">2</text>
<rect x="930.1" y="539" width="19" height="37.7" fill="#3b8763"/><text x="939.60" y="564.05" font-size="16" fill="#a9d3bb" text-anchor="middle">3</text>
<rect x="958.8" y="539" width="19" height="37.7" fill="#3171c4"/><text x="968.30" y="564.05" font-size="16" fill="#b9d0f2" text-anchor="middle">3</text>
<rect x="987.1" y="539" width="19" height="37.7" fill="#3b8763"/><text x="996.60" y="564.05" font-size="16" fill="#a9d3bb" text-anchor="middle">4</text>
<rect x="1015.8" y="539" width="19" height="37.7" fill="#3171c4"/><text x="1025.30" y="564.05" font-size="16" fill="#b9d0f2" text-anchor="middle">4</text>
<rect x="1044.1" y="539" width="19" height="37.7" fill="#3b8763"/><text x="1053.60" y="564.05" font-size="16" fill="#a9d3bb" text-anchor="middle">5</text>
<rect x="1072.8" y="539" width="19" height="37.7" fill="#3171c4"/><text x="1082.30" y="564.05" font-size="16" fill="#b9d0f2" text-anchor="middle">5</text>
<rect x="1101.1" y="539" width="19" height="37.7" fill="#3b8763"/><text x="1110.60" y="564.05" font-size="16" fill="#a9d3bb" text-anchor="middle">6</text>
<rect x="1129.8" y="539" width="19" height="37.7" fill="#3171c4"/><text x="1139.30" y="564.05" font-size="16" fill="#b9d0f2" text-anchor="middle">6</text>
<text x="1176.5" y="554.1" font-size="18.9" fill="#f4f6f8" text-anchor="start" textLength="55.0" lengthAdjust="spacingAndGlyphs">Gated</text>
<text x="1151.4" y="576.7" font-size="18.9" fill="#f4f6f8" text-anchor="start" textLength="105.2" lengthAdjust="spacingAndGlyphs">X-Attention</text>
<text x="956.2" y="622.6" font-size="23.2" fill="#f4f6f8" text-anchor="start" textLength="152.7" lengthAdjust="spacingAndGlyphs">Self-Attention</text>
<g transform="translate(958.9,665.3)"><rect x="0" y="0" width="19.4" height="37.7" fill="#3171c4"/><g transform="translate(9.70,17.35)"><rect x="-9.70" y="-17.35" width="19.4" height="37.7" fill="url(#hp)"/></g><rect x="0.9" y="0.9" width="17.60" height="35.90" fill="none" stroke="#000" stroke-width="1.9"/></g>
<text x="987.1" y="690.2" font-size="17" fill="#111" text-anchor="middle">+</text>
<rect x="997.3" y="665.3" width="113.4" height="36.9" fill="#3b8763"/>
<text x="1004.8" y="689.5" font-size="17.4" fill="#eef6f1" text-anchor="start" textLength="96.1" lengthAdjust="spacingAndGlyphs">Text Tokens</text>
<rect x="769.5" y="725.8" width="531.5" height="260.5" rx="13" fill="none" stroke="#468469" stroke-width="2"/>
<text x="866.6" y="751.4" font-size="19.2" fill="#3f8a68" text-anchor="start" textLength="334.1" lengthAdjust="spacingAndGlyphs">LANGUAGE MODEL (DECODER-ONLY)</text>
<text x="954.7" y="789.1" font-size="16.9" fill="#55595f" font-style="italic" text-anchor="start" textLength="144.5" lengthAdjust="spacingAndGlyphs">Transformer layers</text>
<rect x="794.8" y="796.9" width="481.9" height="131" rx="15" fill="none" stroke="#333" stroke-width="2" stroke-dasharray="5.5 6"/>
<rect x="807.2" y="806.6" width="455.9" height="113.5" rx="10" fill="#323e49"/>
<rect x="807.2" y="860.2" width="455.9" height="5.9" fill="#fff"/>
<text x="912.1" y="841.6" font-size="23.2" fill="#f4f6f8" text-anchor="start" textLength="245.1" lengthAdjust="spacingAndGlyphs">Feed-Forward Network</text>
<text x="956.0" y="898.3" font-size="23.2" fill="#f4f6f8" text-anchor="start" textLength="152.6" lengthAdjust="spacingAndGlyphs">Self-Attention</text>
<g transform="translate(789.8,938.9)"><rect x="0" y="0" width="19.9" height="38.7" fill="#3171c4"/><g transform="translate(9.95,17.85)"><rect x="-9.95" y="-17.85" width="19.9" height="38.7" fill="url(#hp)"/></g><rect x="0.9" y="0.9" width="18.10" height="36.90" fill="none" stroke="#000" stroke-width="1.9"/></g>
<rect x="817" y="939.2" width="19" height="37.7" fill="#3b8763"/><text x="826.50" y="964.25" font-size="16" fill="#a9d3bb" text-anchor="middle">1</text>
<rect x="845.6" y="939.2" width="19" height="37.7" fill="#3171c4"/><text x="855.10" y="964.25" font-size="16" fill="#b9d0f2" text-anchor="middle">1</text>
<rect x="874" y="939.2" width="19" height="37.7" fill="#3b8763"/><text x="883.50" y="964.25" font-size="16" fill="#a9d3bb" text-anchor="middle">2</text>
<rect x="902.6" y="939.2" width="19" height="37.7" fill="#3171c4"/><text x="912.10" y="964.25" font-size="16" fill="#b9d0f2" text-anchor="middle">2</text>
<rect x="931" y="939.2" width="19" height="37.7" fill="#3b8763"/><text x="940.50" y="964.25" font-size="16" fill="#a9d3bb" text-anchor="middle">3</text>
<rect x="959.6" y="939.2" width="19" height="37.7" fill="#3171c4"/><text x="969.10" y="964.25" font-size="16" fill="#b9d0f2" text-anchor="middle">3</text>
<rect x="988" y="939.2" width="19" height="37.7" fill="#3b8763"/><text x="997.50" y="964.25" font-size="16" fill="#a9d3bb" text-anchor="middle">4</text>
<rect x="1016.6" y="939.2" width="19" height="37.7" fill="#3171c4"/><text x="1026.10" y="964.25" font-size="16" fill="#b9d0f2" text-anchor="middle">4</text>
<rect x="1045" y="939.2" width="19" height="37.7" fill="#3b8763"/><text x="1054.50" y="964.25" font-size="16" fill="#a9d3bb" text-anchor="middle">5</text>
<rect x="1073.6" y="939.2" width="19" height="37.7" fill="#3171c4"/><text x="1083.10" y="964.25" font-size="16" fill="#b9d0f2" text-anchor="middle">5</text>
<rect x="1102" y="939.2" width="19" height="37.7" fill="#3b8763"/><text x="1111.50" y="964.25" font-size="16" fill="#a9d3bb" text-anchor="middle">6</text>
<rect x="1130.6" y="939.2" width="19" height="37.7" fill="#3171c4"/><text x="1140.10" y="964.25" font-size="16" fill="#b9d0f2" text-anchor="middle">6</text>
<text x="1157.3" y="963.8" font-size="17" fill="#111" text-anchor="middle">+</text>
<rect x="1167.9" y="939.5" width="113.5" height="37.3" fill="#3b8763"/>
<text x="1175.6" y="963.6" font-size="17.4" fill="#eef6f1" text-anchor="start" textLength="96.1" lengthAdjust="spacingAndGlyphs">Text Tokens</text>
</svg>
<div class="cap"><span class="f">Figure 3:</span> NVLM-1.0 offers three architectural options: the cross-attention-based NVLM-X (top), the hybrid NVLM-H (middle), and the decoder-only NVLM-D (bottom). The dynamic high-resolution vision pathway is shared by all three models. However, different architectures process the image features from thumbnails and regular local tiles in distinct ways.</div>
</body></html>
